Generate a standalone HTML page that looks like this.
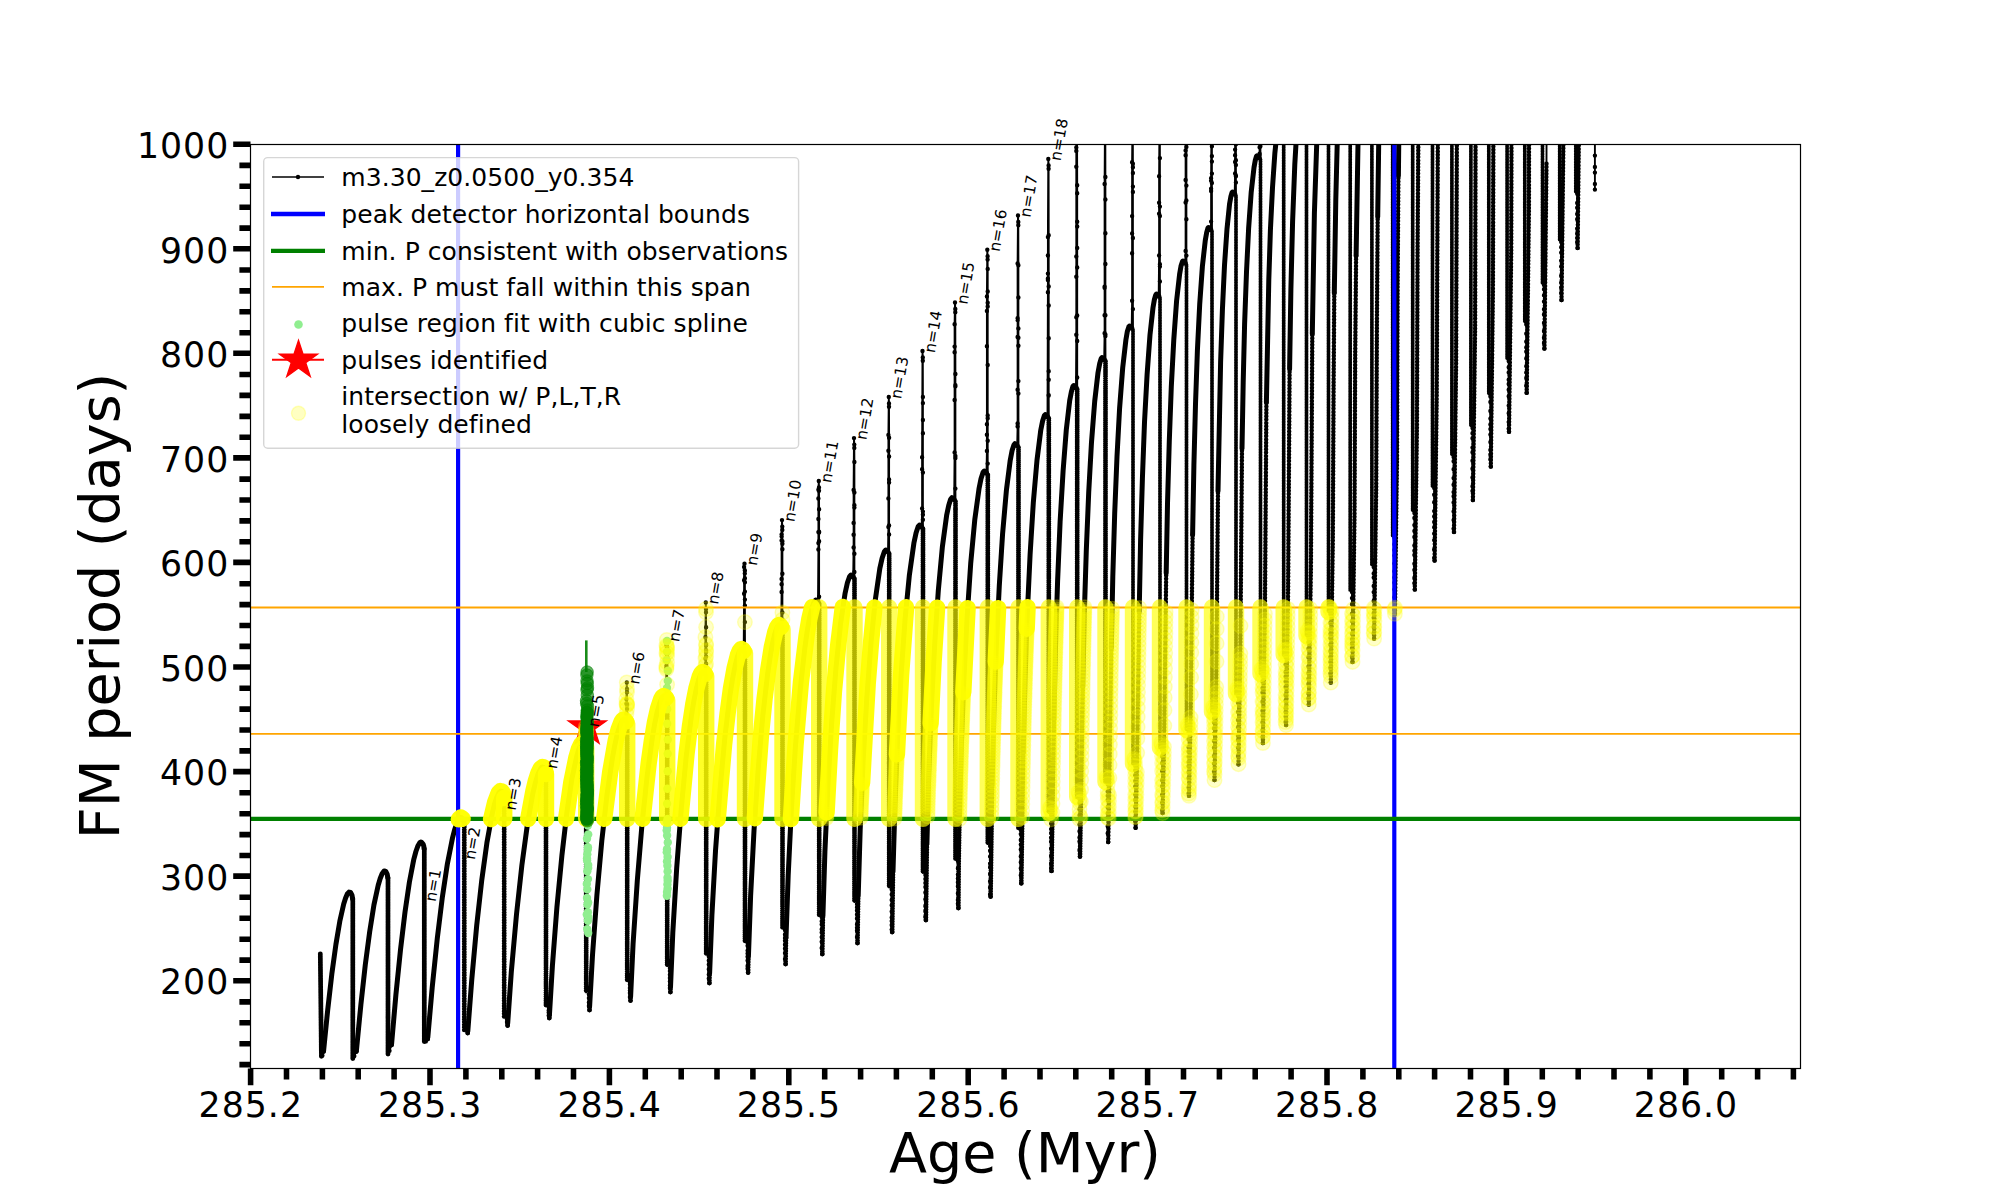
<!DOCTYPE html>
<html><head><meta charset="utf-8"><title>FM period vs Age</title>
<style>
html,body{margin:0;padding:0;background:#fff}
svg{display:block;font-family:"DejaVu Sans","Liberation Sans",sans-serif}
</style></head><body>
<svg width="2000" height="1200" viewBox="0 0 2000 1200">
<rect width="2000" height="1200" fill="#fff"/>
<defs><clipPath id="ax"><rect x="250.5" y="144.5" width="1550" height="924"/></clipPath></defs>
<g clip-path="url(#ax)">
<g fill="none" stroke="#000" stroke-linejoin="round">
<path stroke-width="1.9" d="M320.3 954L321.4 1057L322.4 1055.5L323.5 1051.6L323.6 1050.8L327.7 1009.9L331.8 974.2L335.9 944.5L339.8 921.3L343.7 904L345.6 898L347.3 894L349 892.1L350.6 892.5L352 895.1L352.6 899L352.8 899L352.8 1058.6L354.3 1056.1L356.3 1051.6L356.4 1050.7L360.9 1004.4L365.3 964.8L369.7 931.6L373.9 905.1L378.2 885.3L380.2 878.5L382.1 873.8L384.1 871.1L385.1 871.1L385.8 871.5L387.2 874.1L387.8 878L388 878L388 1054.3L389.5 1050.7L391.5 1045L391.6 1043.9L395.9 994.8L400.5 949.7L405 912.1L409.4 882.1L413.8 859.3L415.9 851.5L418 845.7L419.9 842.5L420.7 842L421.4 842.1L423.1 844.1L423.8 846.3L424.1 849L424.3 849L424.3 1041.8L425.8 1041.4L427.7 1039L427.8 1037.6L432.2 987.5L437.3 938.3L442.4 896.8L447.4 863.7L452.4 838.4L454.8 829.2L457.1 822.6L459.5 818.4L460.5 817.6L461.4 817.6L463.1 819.6L463.8 821.8L464.1 824.5L464.3 824.5L464.3 1030L465.7 1025L466.6 1027L467.7 1033L467.8 1031.2L471.8 979.2L476.7 925.5L481.8 879.8L486.9 842.8L492 814.7L494.4 804.5L496.8 797.2L498.9 792.7L500.8 791L502 791.5L503.1 793.1L503.8 795.3L504.1 798L504.2 798L504.2 1017.5L505.6 1012.5L506.6 1014.5L507 1019.5L507 1021.9L507.6 1025.5L507.7 1023.3L511.3 972L516.5 914.4L521.9 865L527.4 824.4L532.8 793.6L535.4 782.7L538 774.2L540.4 769.1L541.5 767.5L542.5 767L543.8 767.5L544.8 769.1L545.5 771.3L545.8 774L546 774L546 1005L547.3 1000L548.3 1002L548.7 1007L548.7 1010.4L548.7 1012.4L548.7 1015.6L549.3 1018L549.4 1015.3L552.4 965.8L556.9 907.4L561.9 855.4L566.9 812.3L571.9 778.8L576.8 756L579.1 748.5L581.3 744.2L582.8 743L584.1 743.8L585 745L585.4 743L585.4 742.4L585.4 736.6L585.8 727L586 733.5L586 736.8L586.1 729.6L586.1 730.1L586.1 731.7L586.1 735L586.1 741.6L586.2 747L586.2 992.5L587.6 987.5L588.5 989.5L588.9 994.5L588.9 998.1L588.9 1002.5L588.9 1006L589.5 1010L589.6 1006.7L592.5 955.2L596.9 895.1L601.8 840.7L607 794.9L612.2 759.3L614.8 745.1L617.3 734L619.9 725.7L622.2 720.8L623.8 719.5L625.1 720.3L626 721.5L626.4 713.8L626.4 703.8L626.4 699.1L626.8 682.5L627 689L627 692.3L627.1 704L627.1 704.7L627.1 705.1L627.1 709L627.2 723.5L627.2 980L628.6 975L629.5 977L629.9 982L629.9 984.4L629.9 988L629.9 990.6L629.9 993L629.9 997.1L630.5 1000.5L630.6 996.6L633.1 943.5L637.3 880.6L642 824.4L647.2 775.5L652.3 737.8L654.8 723.1L657.3 711.6L659.8 702.9L662.1 697.5L663.8 696L665.1 696.8L666 698L666.4 669.3L666.4 667.7L666.4 665.9L666.4 653.2L666.4 645.7L666.8 640L667 646.5L667 649.8L667.1 647.8L667.1 653L667.1 656.6L667.1 662.6L667.1 684.6L667.2 700L667.2 966L668.5 961L669.5 963L669.9 968L669.9 971.1L669.9 974.8L669.9 978L669.9 981.5L669.9 985.5L669.9 987.9L670.4 992L670.5 987.3L672.8 932.6L676.7 867.9L681.3 808.2L686.2 756.8L691.3 716.7L693.8 701.3L696.3 688.7L698.8 679.3L701.1 673.7L702.8 672L704.1 672.8L705 674L705.4 665.8L705.4 658.6L705.4 637.2L705.8 602.5L706 609L706 612.3L706.1 627.2L706.1 644.1L706.1 645.5L706.1 650.3L706.1 652L706.1 656.5L706.1 663.8L706.2 676L706.2 954.5L707.5 949.5L708.4 951.5L708.8 956.5L708.8 960.6L708.8 964.4L708.8 969.3L708.8 974.6L708.8 978.4L709.4 983L709.5 977.3L711.7 919.5L715.3 853.9L719.8 792.4L724.7 738.8L729.7 696.9L732.3 680.3L734.9 666.8L737.4 657L739.7 650.9L741.5 649L742.9 649.8L743.7 651L744.1 593.8L744.1 580.2L744.1 566.9L744.5 563.8L744.8 570.2L744.8 573.5L744.9 570.8L744.9 578.3L744.9 582.3L744.9 591.6L744.9 599.6L744.9 605.6L744.9 622.1L745 653L745 941L746.3 936L747.2 938L747.6 943L747.6 945.7L747.6 950.6L747.6 953.5L747.6 956.8L747.6 960.5L747.6 965.9L747.6 968.6L748.1 972.5L748.2 965.7L750.1 907.1L753.5 838.7L757.7 775.4L762.5 719.5L767.4 675.4L770 657.7L772.4 643.8L774.9 633.4L777.3 626.9L779 625L780.4 625.8L781.2 627L781.6 592L781.6 584.3L781.6 578.9L781.6 540.5L781.6 536.2L781.6 534.4L782 520.1L782.3 526.6L782.3 529.9L782.4 541.2L782.4 543.7L782.4 549.1L782.4 549.2L782.4 573.7L782.4 612.5L782.4 619.7L782.5 629L782.5 928L783.7 923L784.6 925L785 930L785 934.6L785 938.1L785 940.7L785 944.7L785 948.6L785 953.1L785 959L785.6 964L785.6 959.9L787.2 898.8L790.4 827.7L794.5 760L799.1 701.1L804 654.1L806.6 635.5L809.1 620.5L811.6 609.2L813.9 602.3L814.9 600.6L815.8 600L817.1 600.8L818 602L818.4 549.5L818.4 543.1L818.4 532.1L818.4 519L818.4 498.5L818.4 489.8L818.8 481L819 487.5L819 490.8L819.1 509.2L819.1 531.7L819.1 532.4L819.1 541.3L819.1 596.7L819.2 604L819.2 915L820.5 910L821.4 912L821.7 917L821.7 921.3L821.7 924.4L821.7 929.3L821.7 932.4L821.7 937.1L821.7 941.8L821.7 947.9L822.3 954L822.3 949.1L823.8 884.5L826.6 812.5L830.4 742.6L834.8 681.2L839.6 631.7L842.1 612L844.5 596.6L846.9 584.5L849.2 577.3L850.2 575.6L851 575L852.4 575.8L853.2 577L853.6 547.5L853.6 534.7L853.6 522.9L853.6 490L854 438.1L854.3 444.6L854.3 447.9L854.4 462L854.4 492.5L854.4 505.3L854.4 507.6L854.4 553.7L854.4 572L854.5 579L854.5 902L855.7 897L856.6 899L857 904L857 907.2L857 910.4L857 914.5L857 918.4L857 924.3L857 927.8L857 930.7L857 937.1L857.5 943L857.5 937.2L858.8 872.2L861.5 796.6L865.1 724.7L869.5 660.9L874.3 609.1L876.7 588.9L879.1 572.6L881.6 560.2L883.9 552.5L884.9 550.7L885.8 550L887.1 550.8L888 552L888.4 527L888.4 498.4L888.4 450.8L888.4 434.9L888.8 396.9L889 403.4L889 406.7L889.1 437.7L889.1 456.4L889.1 479.4L889.1 482.6L889.1 525.5L889.1 534.4L889.2 554L889.2 887.5L890.5 882.5L891.3 884.5L891.7 889.5L891.7 894.5L891.7 899.9L891.7 905.3L891.7 911.4L891.7 917.4L891.7 921.1L891.7 925L891.7 929.6L892.2 932L892.2 927.4L893.4 856.9L895.8 780.7L899.2 706.6L903.4 641.6L908 588L910.4 566.4L912.9 549L915.3 535.9L917.7 527.7L918.6 525.8L919.4 525L920.9 525.8L921.7 527L922.1 508.5L922.1 508.4L922.1 469.2L922.1 457.2L922.5 351L922.8 357.5L922.8 360.8L922.9 396.9L922.9 403.1L922.9 420L922.9 433.2L922.9 472.5L922.9 511.6L922.9 514.5L922.9 514.8L922.9 519.8L923 529L923 873L924.2 868L925 870L925.4 875L925.4 879L925.4 882.9L925.4 886.9L925.4 892.5L925.4 899.3L925.4 905.9L925.4 910.9L925.4 916.7L925.9 920L925.9 914.5L926.9 843.9L929.1 763.2L932.3 686.7L936.3 619.1L940.8 563L943.1 540.9L945.5 522.6L947.9 508.9L950.2 500.5L951.1 498.4L951.9 497.6L953.4 498.4L954.2 499.6L954.6 452.5L954.6 400L954.6 352.2L954.6 346.6L954.6 324.2L955 302.5L955.3 309L955.3 312.3L955.4 374L955.4 385.3L955.4 386.3L955.4 455.9L955.4 458L955.4 488.6L955.5 501.6L955.5 859L956.7 854L957.5 856L957.9 861L957.9 868.3L957.9 874.6L957.9 878.5L957.9 882.3L957.9 886.2L957.9 893.3L957.9 899.9L957.9 903.8L958.4 908L958.4 903.1L959.2 827.4L961.3 746L964.3 668.8L968.3 598.1L972.7 540.2L975.1 516.7L977.6 497.4L980.1 482.9L982.4 474.1L983.3 471.9L984.2 471L985.7 471.8L986.5 473L986.9 450.9L986.9 434.7L986.9 424.2L986.9 346.2L986.9 310.9L986.9 296.4L987.3 249.8L987.6 256.3L987.6 259.6L987.7 268.9L987.7 291.5L987.7 302.8L987.7 306.4L987.7 365L987.7 415.4L987.7 418.3L987.7 440.7L987.7 463.6L987.8 475L987.8 844L989 839L989.8 841L990.1 846L990.1 850.8L990.1 856.6L990.1 863.6L990.1 867.2L990.1 873.9L990.1 881.2L990.1 887.5L990.1 894.5L990.6 896.5L990.7 890.6L991.8 801.9L993.8 718.4L996.6 640L1000.1 571.6L1004.3 512.4L1006.5 489L1008.8 469.7L1011.1 455.4L1013.3 446.4L1014.9 443.6L1016.4 444.4L1017.2 445.6L1017.6 426.4L1017.6 423.4L1017.6 389.7L1017.6 337L1017.6 319.9L1017.6 318.2L1017.6 263.5L1018 215.4L1018.3 221.9L1018.3 225.2L1018.4 265.3L1018.4 297.5L1018.4 328.4L1018.4 337.8L1018.4 345.6L1018.4 345.8L1018.4 381.1L1018.4 393.5L1018.5 447.6L1018.5 828L1019.6 823L1020.5 825L1020.8 830L1020.8 834L1020.8 840L1020.8 844.6L1020.8 849.4L1020.8 856.4L1020.8 862.2L1020.8 868.3L1020.8 875.3L1021.3 883.3L1021.3 877.7L1022.7 777.9L1024.6 693.3L1027.3 614.2L1030.6 545.4L1034.7 485.2L1036.9 460.8L1039.1 441.4L1041.4 426.5L1043.6 417.5L1044.4 415.4L1045.2 414.5L1046.7 415.3L1047.5 416.5L1047.9 292.2L1047.9 280L1047.9 278.5L1047.9 273.6L1047.9 255.5L1047.9 237.1L1048.3 158.9L1048.6 165.4L1048.6 168.7L1048.7 235.2L1048.7 286.4L1048.7 305.5L1048.7 338.3L1048.7 371.3L1048.7 379.8L1048.7 395.1L1048.7 395.2L1048.7 395.5L1048.8 418.5L1048.8 813L1049.9 808L1050.7 810L1051.1 815L1051.1 819.3L1051.1 823.4L1051.1 829.1L1051.1 833.1L1051.1 837.8L1051.1 841.8L1051.1 848.6L1051.1 855.9L1051.1 863.8L1051.1 868.2L1051.5 870.9L1051.6 865.4L1053.5 739.5L1055.1 662.5L1057.5 584.5L1060.4 516.6L1064.1 456.2L1068.2 412L1070.2 397.3L1072.3 388.3L1073 386.3L1073.8 385.5L1075.2 386.3L1076 387.5L1076.3 334.7L1076.3 317.3L1076.3 276.7L1076.3 256.5L1076.3 166.7L1076.3 150.9L1076.3 147.5L1076.8 119.5L1077 119.5L1077.2 185.3L1077.2 193.2L1077.2 221.7L1077.2 226.5L1077.2 247.9L1077.2 267.4L1077.2 315.4L1077.2 341L1077.2 377.5L1077.2 389.5L1077.2 797L1078.4 792L1079.2 794L1079.5 799L1079.5 802.8L1079.5 809.3L1079.5 815.2L1079.5 819L1079.5 824.4L1079.5 831.2L1079.5 837.4L1079.5 841.5L1079.5 850.1L1080 856.6L1080.1 851L1083.9 630L1086.1 555.7L1088.8 490.1L1092.4 429.3L1096.4 384.5L1098.5 369.8L1100.5 360.4L1101.9 357.5L1103.4 358.3L1104.2 359.5L1104.6 333.3L1104.6 315.2L1104.6 287.7L1104.6 286.7L1104.6 184L1105 119.5L1105.3 119.5L1105.4 177L1105.4 199.5L1105.4 233.3L1105.4 264L1105.4 315.3L1105.4 334.4L1105.4 336L1105.5 361.5L1105.5 782L1106.6 777L1107.4 779L1107.7 784L1107.7 791.4L1107.7 795.7L1107.7 799.9L1107.7 807.3L1107.7 813.3L1107.7 817.5L1107.7 826.2L1107.7 833.3L1108.2 842L1108.3 836.2L1112.3 597.4L1114.4 524L1116.9 459.2L1120.3 397.3L1124.2 352.9L1126.2 338L1128.1 328.8L1129.4 326L1130.9 326.8L1131.7 328L1132.1 300.8L1132.1 253.3L1132.1 233.4L1132.1 216.1L1132.1 162.2L1132.5 119.5L1132.8 119.5L1132.9 163.7L1132.9 167.2L1132.9 173L1132.9 186.6L1132.9 191.9L1132.9 238L1132.9 309.1L1133 330L1133 764L1134.1 759L1134.9 761L1135.2 766L1135.2 770.2L1135.2 775.3L1135.2 780.9L1135.2 786.5L1135.2 794.5L1135.2 800L1135.2 806.6L1135.2 811.5L1135.2 817.3L1135.2 821.4L1135.6 827.7L1135.8 822.1L1136.9 772.1L1140.1 560.7L1141.9 491.3L1144.2 428.8L1147.6 366.4L1151.3 320.8L1153.2 306.1L1155.1 296.7L1156.5 294L1157.9 294.8L1158.7 296L1159.1 255.4L1159.1 213.8L1159.1 202.7L1159.1 176.2L1159.5 119.5L1159.8 119.5L1159.9 158.1L1159.9 206.6L1159.9 216L1159.9 264.2L1159.9 266.5L1159.9 281.4L1160 298L1160 748L1161.1 743L1161.8 745L1162.1 750L1162.1 756.2L1162.1 763.1L1162.1 770.9L1162.1 780.3L1162.1 786.2L1162.1 794.9L1162.1 802.8L1162.1 810.3L1162.6 813.1L1162.7 807.6L1164 747L1167 530.5L1168.7 460.7L1170.8 399.6L1174 335.9L1177.8 289.1L1179.7 273.5L1181.6 263.9L1182.9 261L1184.4 261.8L1185.2 263L1185.6 250.9L1185.6 202.5L1185.6 179.9L1185.6 155.3L1185.6 150.4L1186 119.5L1186.3 119.5L1186.4 146.9L1186.4 185.6L1186.4 200.4L1186.4 219.3L1186.4 255.6L1186.5 265L1186.5 730L1187.6 725L1188.3 727L1188.6 732L1188.6 739.3L1188.6 747.2L1188.6 751.5L1188.6 756.6L1188.6 762.1L1188.6 766.2L1188.6 772.3L1188.6 778.2L1188.6 787.6L1188.6 793.5L1189 795.8L1189.2 790.2L1190.6 717.6L1193.2 500.8L1194.7 430L1196.7 367.5L1199.8 302.5L1203.4 255.6L1205.3 239.9L1207.2 230.3L1208.5 227.5L1209.9 228.3L1210.7 229.5L1211.1 221.6L1211.1 191L1211.1 188.8L1211.1 180.8L1211.1 178.3L1211.5 119.5L1211.8 119.5L1211.9 138.8L1211.9 146.2L1211.9 156.1L1211.9 161.6L1211.9 173.6L1211.9 182.9L1212 231.5L1212 712L1213 707L1213.8 709L1214 714L1214 718.3L1214 722.5L1214 728.2L1214 733.6L1214 740.9L1214 747.8L1214 756L1214 763.6L1214 771.6L1214.5 780.1L1214.6 774.3L1216.2 687.1L1218.4 463.5L1219.8 393.7L1221.5 333.4L1224.4 268L1227.8 220.1L1229.6 204.2L1231.3 194.6L1232.5 192L1233.9 192.8L1234.7 194L1235.1 173.5L1235.1 162L1235.1 155.2L1235.1 149.6L1235.5 119.5L1235.8 119.5L1235.9 144.3L1235.9 160.2L1235.9 164.9L1235.9 175.4L1235.9 176.2L1235.9 182.4L1236 196L1236 694L1237 689L1237.8 691L1238 696L1238 702.8L1238 711.9L1238 720L1238 727.2L1238 735.7L1238 739.9L1238 747.7L1238 756.1L1238.5 764.2L1238.6 758.4L1240.3 653.6L1242.2 434.2L1243.6 364L1245.3 302.2L1248.2 235.8L1251.8 186.2L1253.7 169.5L1255.6 159L1257 155.8L1258.4 156.6L1259.2 157.8L1259.6 154.8L1259.6 153.8L1259.6 147.3L1259.6 141.4L1259.6 134.2L1260 119.5L1260.3 119.5L1260.4 134.4L1260.4 135.2L1260.4 139.6L1260.4 144.4L1260.4 146.2L1260.5 159.8L1260.5 674L1261.5 669L1262.3 671L1262.5 676L1262.5 681.5L1262.5 688.1L1262.5 692.5L1262.5 701.7L1262.5 710.7L1262.5 715.2L1262.5 722.2L1262.5 730.3L1262.5 737L1262.9 743L1263 737.1L1264.9 613.8L1266.5 395L1267.7 325.2L1269.2 264.3L1271.9 197L1275.3 148L1277.1 131.5L1278.9 121.1L1279.3 119.5L1281.6 119.5L1282.4 120L1282.8 131.9L1282.8 129.2L1282.8 129.1L1282.8 123.3L1283.2 119.5L1283.5 119.5L1283.6 123L1283.6 124L1283.6 126.1L1283.6 126.3L1283.6 127.4L1283.7 122L1283.7 655L1284.7 650L1285.4 652L1285.6 657L1285.6 664.4L1285.6 672L1285.6 676.5L1285.6 681.4L1285.6 686.9L1285.6 695L1285.6 700.7L1285.6 707.9L1285.6 712L1285.6 716.4L1285.6 722L1286.1 725.1L1286.2 719.3L1288.1 591.5L1289.7 358.1L1290.9 284.3L1292.6 219.9L1294.8 163.5L1297.4 119.6L1305.2 119.5L1306.4 119.5L1306.4 120.1L1306.4 123.9L1306.5 119.5L1306.5 636L1307.5 631L1308.2 633L1308.4 638L1308.4 642.2L1308.4 648.8L1308.4 657.3L1308.4 666.6L1308.4 673.2L1308.4 678.7L1308.4 683.9L1308.4 693.2L1308.4 698.4L1308.8 704.5L1308.9 698.5L1310.9 566.9L1312.5 319.3L1313.8 239.7L1315.5 172.9L1317.5 119.5L1327.2 119.5L1327.6 125.9L1327.6 119.5L1328.5 119.5L1328.5 612L1329.5 607L1330.2 609L1330.4 614L1330.4 623L1330.4 629.7L1330.4 633.9L1330.4 638L1330.4 644.8L1330.4 651.3L1330.4 657L1330.4 661.9L1330.4 667.8L1330.4 673.6L1330.8 682.5L1330.9 676.6L1332.8 540.8L1333.6 377.8L1334.5 278.8L1335.9 193.4L1337.7 122.9L1337.9 119.5L1350.2 119.5L1350.2 590L1351.2 585L1351.9 587L1352 592L1352 598.1L1352 604.3L1352 613.8L1352 621.1L1352 627.2L1352 633.6L1352 639.1L1352 643.5L1352 648.1L1352 656.7L1352.5 661.9L1352.5 656L1354.5 515.5L1356 259.8L1358.4 119.7L1370.6 119.5L1371 122.7L1371 119.5L1371.9 119.5L1371.9 565L1372.9 560L1373.5 562L1373.7 567L1373.7 573.4L1373.7 577.6L1373.7 585.9L1373.7 592.1L1373.7 601L1373.7 608.1L1373.7 613.2L1373.7 617.8L1373.7 626.9L1373.7 633.2L1374.1 638.5L1374.2 632.7L1376.2 487.9L1377.2 265.5L1379.1 119.5L1392.7 119.5L1392.7 536L1393.6 531L1394.3 533L1394.5 538L1394.5 544.3L1394.5 549.9L1394.5 555.4L1394.5 563.5L1394.5 571.2L1394.5 577.4L1394.5 582.8L1394.5 589.5L1394.5 597.2L1394.5 602L1394.5 609.6L1394.9 613.8L1395 607.8L1397 458.7L1397.8 253L1399.1 119.5L1412.7 119.5L1412.7 511L1413.6 506L1414.3 508L1414.4 513L1414.4 518L1414.4 525.1L1414.4 531L1414.4 537L1414.4 545.5L1414.4 550.7L1414.4 554.9L1414.4 563.7L1414.4 569.9L1414.4 578L1414.4 583.2L1414.8 589.4L1414.9 583.5L1416.9 429.7L1417.6 238.4L1418.5 119.7L1431.2 119.5L1432.5 119.5L1432.5 486L1433.4 481L1434.1 483L1434.2 488L1434.2 494.8L1434.2 502.3L1434.2 511.1L1434.2 516.4L1434.2 521.9L1434.2 527.3L1434.2 533.6L1434.2 540.1L1434.2 549.4L1434.2 558.1L1434.6 560.6L1434.7 554.7L1436.7 396.7L1437.9 119.5L1451.9 119.5L1451.9 455L1452.8 450L1453.4 452L1453.6 457L1453.6 461.3L1453.6 469.2L1453.6 478.1L1453.6 484.8L1453.6 492.1L1453.6 496.2L1453.6 502.4L1453.6 511.5L1453.6 520.1L1453.6 528.8L1454 531.9L1454 526.1L1456.1 363.6L1457 119.5L1470.9 119.5L1470.9 426L1471.8 421L1472.4 423L1472.5 428L1472.5 433.3L1472.5 438.2L1472.5 447.6L1472.5 452.2L1472.5 460.8L1472.5 468.7L1472.5 477.4L1472.5 486.3L1472.5 490.9L1472.9 500.1L1473 494.2L1475.1 327.7L1475.7 119.5L1488.8 119.5L1488.8 394.6L1489.7 389.6L1490.3 391.6L1490.4 396.6L1490.4 401.9L1490.4 411L1490.4 418.6L1490.4 424.4L1490.4 429.1L1490.4 434.6L1490.4 442.1L1490.4 450L1490.4 454.7L1490.4 459.2L1490.8 466.6L1490.9 460.7L1492.9 290.1L1493.4 119.5L1507.1 119.5L1507.1 359L1508 354L1508.6 356L1508.7 361L1508.7 367.2L1508.7 372.5L1508.7 379.8L1508.7 384L1508.7 389.7L1508.7 396.3L1508.7 405.6L1508.7 413.2L1508.7 422.1L1508.7 428.7L1509 431.7L1509.1 425.9L1511.2 251.1L1511.5 119.5L1524.8 119.5L1524.8 322.5L1525.6 317.5L1526.2 319.5L1526.3 324.5L1526.3 333.8L1526.3 341.7L1526.3 347.5L1526.3 351.7L1526.3 358.5L1526.3 366.2L1526.3 372.6L1526.3 378.1L1526.3 385.8L1526.7 392.8L1526.8 386.9L1528.9 208.6L1529.1 119.5L1542.5 119.5L1542.5 283L1543.3 278L1543.9 280L1544 285L1544 289.3L1544 295.2L1544 301.6L1544 309.3L1544 314.5L1544 322.9L1544 331L1544 337.8L1544 343L1544.4 348.6L1544.4 342.8L1546.5 161.6L1546.6 119.5L1559.7 119.5L1559.7 240L1560.5 235L1561.1 237L1561.2 242L1561.2 247.3L1561.2 252.6L1561.2 260.8L1561.2 266.5L1561.2 275.8L1561.2 282.6L1561.2 287.7L1561.2 293L1561.5 300L1561.6 294.1L1563.6 119.5L1575.8 119.5L1575.8 191.7L1576.6 186.7L1577.2 188.7L1577.2 193.7L1577.2 202.9L1577.2 207.8L1577.2 214L1577.2 219.3L1577.2 228.7L1577.2 233.5L1577.2 237.9L1577.2 242.3L1577.6 247.9L1577.6 241.9L1579.1 119.5L1594.9 119.5L1594.9 155.6L1594.9 166.9L1594.9 172.6L1594.9 183.9L1594.9 189.6"/>
<path stroke-width="5" stroke-linecap="round" d="M323.6 1050.8L327.7 1009.9L331.8 974.2L335.9 944.5L339.8 921.3L343.7 904L345.6 898L347.3 894L349 892.1L350.6 892.5L352 895.1L352.6 899M356.4 1050.7L360.9 1004.4L365.3 964.8L369.7 931.6L373.9 905.1L378.2 885.3L380.2 878.5L382.1 873.8L384.1 871.1L385.1 871.1L385.8 871.5L387.2 874.1L387.8 878M391.6 1043.9L395.9 994.8L400.5 949.7L405 912.1L409.4 882.1L413.8 859.3L415.9 851.5L418 845.7L419.9 842.5L420.7 842L421.4 842.1L423.1 844.1L423.8 846.3L424.1 849M427.8 1037.6L432.2 987.5L437.3 938.3L442.4 896.8L447.4 863.7L452.4 838.4L454.8 829.2L457.1 822.6L459.5 818.4L460.5 817.6L461.4 817.6L463.1 819.6L463.8 821.8L464.1 824.5M467.8 1031.2L471.8 979.2L476.7 925.5L481.8 879.8L486.9 842.8L492 814.7L494.4 804.5L496.8 797.2L498.9 792.7L500.8 791L502 791.5L503.1 793.1L503.8 795.3L504.1 798M507.7 1023.3L511.3 972L516.5 914.4L521.9 865L527.4 824.4L532.8 793.6L535.4 782.7L538 774.2L540.4 769.1L541.5 767.5L542.5 767L543.8 767.5L544.8 769.1L545.5 771.3L545.8 774M549.4 1015.3L552.4 965.8L556.9 907.4L561.9 855.4L566.9 812.3L571.9 778.8L576.8 756L579.1 748.5L581.3 744.2L582.8 743L584.1 743.8L585 745M589.6 1006.7L592.5 955.2L596.9 895.1L601.8 840.7L607 794.9L612.2 759.3L614.8 745.1L617.3 734L619.9 725.7L622.2 720.8L623.8 719.5L625.1 720.3L626 721.5M630.6 996.6L633.1 943.5L637.3 880.6L642 824.4L647.2 775.5L652.3 737.8L654.8 723.1L657.3 711.6L659.8 702.9L662.1 697.5L663.8 696L665.1 696.8L666 698M670.5 987.3L672.8 932.6L676.7 867.9L681.3 808.2L686.2 756.8L691.3 716.7L693.8 701.3L696.3 688.7L698.8 679.3L701.1 673.7L702.8 672L704.1 672.8L705 674M709.6 973.3L711.9 915.4L715.5 850.9L720 790L724.9 736.9L729.9 695.6L732.5 679.1L735 666.4L737.4 656.7L739.8 650.7L741.5 649L742.9 649.8L743.7 651M748.4 957L750.6 896.1L754 830.6L758.2 769.1L762.8 715.7L767.7 673.3L770.2 656.5L772.6 642.9L775 633.1L777.3 626.9L779 625L780.4 625.8L781.2 627M786 937.9L788.2 875.1L791.4 808.9L795.4 746.9L800 692.1L804.7 648.9L807.1 631.9L809.5 618.1L811.9 607.8L814.2 601.7L815.8 600L817.1 600.8L818 602M822.9 916.2L824.9 851.9L828 784L831.7 722.3L836 667.8L840.5 624.2L845.1 593.2L847.4 582.8L849.5 576.7L851 575L852.4 575.8L853.2 577M858.2 896.3L860.2 829.3L863.1 761.3L866.8 698.2L870.9 644.1L875.3 599.9L879.8 568.6L882.1 558.2L884.3 551.7L885.8 550L887.1 550.8L888 552M893 871.3L895 803.4L897.7 736.2L901.2 673.7L905.1 619L909.4 574.8L913.9 543.1L916.1 532.8L918.1 526.7L919.5 525L920.9 525.8L921.7 527M926.9 843.9L928.7 775.1L931.4 707L934.7 644.2L938.3 590.7L942.4 546.6L946.6 515.6L948.7 505.4L950.6 499.3L952 497.6L953.4 498.4L954.2 499.6M959.5 815.3L961.3 746L963.9 679.3L967.1 617.3L970.7 563.6L974.8 519.6L979 488.8L981 478.7L983 472.5L984.3 471L985.7 471.8L986.5 473M992.1 785.5L993.9 713.4L996.3 647L999.3 585.7L1002.6 533.7L1006.4 490.4L1010.2 460.4L1012.1 450.6L1013.9 445L1015 443.6L1016.4 444.4L1017.2 445.6M1023.2 752.7L1025 680.6L1027.3 614.2L1030.1 554.5L1033.3 502.8L1037 460.1L1040.7 430.6L1042.6 421.1L1044.3 415.7L1045.3 414.5L1046.7 415.3L1047.5 416.5M1053.9 719.1L1055.5 647.1L1057.6 580.9L1060.1 521.8L1063.1 470.9L1066.3 429.8L1069.7 400.5L1071.4 391.7L1072.9 386.5L1073.8 385.5L1075.2 386.3L1076 387.5M1082.7 686.9L1084.3 614.6L1086.3 550.3L1088.7 492.7L1091.5 442.2L1094.7 401.4L1098 372.6L1099.7 363.5L1101.2 358.5L1102 357.5L1103.4 358.3L1104.2 359.5M1111.3 648.2L1112.8 576.7L1114.7 513.3L1117 456.7L1119.6 408.2L1122.7 367.7L1125.9 339.9L1127.3 331.6L1128.8 326.9L1129.5 326L1130.9 326.8L1131.7 328M1139.2 611.7L1140.6 540.1L1142.4 478.7L1144.5 422.3L1147.1 374.5L1150 334.7L1153 307.6L1154.4 299.5L1155.8 294.8L1156.5 294L1157.9 294.8L1158.7 296M1166.2 573.1L1167.5 504L1169.3 440.8L1171.3 386.6L1173.8 339.5L1176.6 300.7L1179.6 274.2L1181 266.1L1182.4 261.7L1183 261L1184.4 261.8L1185.2 263M1192.6 534.9L1193.9 465.3L1195.5 404.2L1197.4 350.5L1199.7 304.3L1202.4 266.3L1205.3 240.2L1206.7 232.4L1207.9 228.2L1208.5 227.5L1209.9 228.3L1210.7 229.5M1218 491.1L1220.6 362.5L1222.4 310.1L1224.5 265.4L1227 228.9L1229.6 203.6L1230.9 196.5L1232 192.6L1232.5 192L1233.9 192.8L1234.7 194M1242 448.7L1243.2 382.4L1244.6 324.1L1246.5 272L1248.6 228.8L1251.2 192.2L1254 167.5L1255.3 160.3L1256.5 156.3L1257 155.8L1258.4 156.6L1259.2 157.8M1266.4 402.4L1268.8 279.8L1270.4 230.4L1272.5 187.7L1274.9 152.7L1277.4 128.8L1279.3 119.5L1282.4 120M1289.6 369.1L1290.9 288.7L1292.6 221.4L1294.8 164.4L1297.4 119.6M1312.3 334L1314.4 213L1317.5 120.4M1334.3 293.1L1335.8 199.5L1337.8 120.3M1356.1 255.9L1358.4 119.7M1377.7 216.9L1379 120.8M1398.4 176L1399 120.8M1418.4 130.7L1418.5 119.7"/>
<path stroke-width="4.9" stroke-linecap="round" stroke-dasharray="0 1.1" d="M320.3 954L321.4 1057M352.8 899L352.8 1058.6M388 878L388 1054.3M424.3 849L424.3 1041.8"/><path stroke-width="4.9" stroke-linecap="round" stroke-dasharray="0 2.6" d="M464.3 824.5L464.3 1030M504.2 798L504.2 1017.5"/><path stroke-width="4.9" stroke-linecap="round" stroke-dasharray="0 2.1" d="M546 774L546 1005M586.2 747L586.2 992.5M627.2 723.5L627.2 980M667.2 700L667.2 966M706.2 676L706.2 954.5M745 653L745 941M782.5 629L782.5 928M819.2 604L819.2 915M854.5 579L854.5 902M889.2 554L889.2 887.5M923 529L923 873M955.5 501.6L955.5 859M987.8 475L987.8 844M1018.5 447.6L1018.5 828M1048.8 418.5L1048.8 813M1077.2 389.5L1077.2 797M1105.5 361.5L1105.5 782"/><path stroke-width="3.9" stroke-linecap="round" stroke-dasharray="0 1.6" d="M1133 330L1133 764M1160 298L1160 748M1186.5 265L1186.5 730M1212 231.5L1212 712M1236 196L1236 694M1260.5 159.8L1260.5 674M1283.7 122L1283.7 655M1306.5 119.5L1306.5 636M1328.5 119.5L1328.5 612M1350.2 119.5L1350.2 590M1371.9 119.5L1371.9 565M1392.7 119.5L1392.7 536M1412.7 119.5L1412.7 511M1432.5 119.5L1432.5 486M1451.9 119.5L1451.9 455M1470.9 119.5L1470.9 426M1488.8 119.5L1488.8 394.6M1507.1 119.5L1507.1 359M1524.8 119.5L1524.8 322.5M1542.5 119.5L1542.5 283M1559.7 119.5L1559.7 240M1575.8 119.5L1575.8 191.7"/>
<path stroke-width="4.8" stroke-linecap="round" stroke-dasharray="0 2.6" d="M323.5 1051.6L323.6 1050.8M356.3 1051.6L356.4 1050.7M391.5 1045L391.6 1043.9M427.7 1039L427.8 1037.6M467.7 1033L467.8 1031.2M507.6 1025.5L507.7 1023.3M549.3 1018L549.4 1015.3M589.5 1010L589.6 1006.7M630.5 1000.5L630.6 996.6M670.4 992L670.5 987.3M709.4 983L709.6 973.3M748.1 972.5L748.4 957M785.6 964L786 937.9M822.3 954L822.9 916.2M857.5 943L858.2 896.3M892.2 932L893 871.3M925.9 920L926.9 843.9M958.4 908L958.7 863.4L959.5 815.3M990.6 896.5L992.1 785.5M1021.3 883.3L1023.2 752.7M1051.5 870.9L1053.9 719.1M1080 856.6L1082.7 686.9"/>
<path stroke-width="4.5" stroke-linecap="round" stroke-dasharray="0 3.3" d="M1108.2 842L1109.1 795.2L1111.3 648.2M1135.6 827.7L1136.9 772.1L1139.2 611.7M1162.6 813.1L1164 747L1166.2 573.1M1189 795.8L1190.6 717.6L1192.6 534.9M1214.5 780.1L1216.2 687.1L1218 491.1M1238.5 764.2L1240.3 653.6L1242 448.7M1262.9 743L1264.9 613.8L1266.4 402.4M1286.1 725.1L1288.1 591.5L1289.6 369.1M1308.8 704.5L1310.9 566.9L1312.3 334M1330.8 682.5L1332.8 540.8L1333.6 384.9L1334.3 293.1M1352.5 661.9L1354.5 515.5L1355.2 354.6L1356.1 255.9M1374.1 638.5L1376.2 487.9L1376.9 322.2L1377.7 216.9M1394.9 613.8L1397 458.7L1397.6 280.5L1398.4 176M1414.8 589.4L1416.9 429.7L1417.6 246L1418.4 130.7M1434.6 560.6L1436.7 396.7L1437.9 123.9M1454 531.9L1456.1 363.6L1456.9 121.1M1472.9 500.1L1475.1 327.7L1475.6 121.1M1490.8 466.6L1492.9 290.1L1493.4 126.3M1509 431.7L1511.2 251.1L1511.5 123M1526.7 392.8L1528.9 208.6L1529 136.9M1544.4 348.6L1546.5 161.6M1561.5 300L1563.6 122.7M1577.6 247.9L1579 122.6"/>
<path stroke-width="4.4" stroke-linecap="round" d="M322.4 1055.5h0M323.5 1051.6h0M354.3 1056.1h0M356.3 1051.6h0M389.5 1050.7h0M391.5 1045h0M425.8 1041.4h0M427.7 1039h0M465.7 1025h0M466.6 1027h0M467.7 1033h0M505.6 1012.5h0M506.6 1014.5h0M507 1019.5h0M507 1021.9h0M507.6 1025.5h0M547.3 1000h0M548.3 1002h0M548.7 1007h0M548.7 1010.4h0M548.7 1012.4h0M548.7 1015.6h0M549.3 1018h0M585.4 743h0M585.4 742.4h0M585.4 736.6h0M585.8 727h0M586 733.5h0M586 736.8h0M586.1 729.6h0M586.1 730.1h0M586.1 731.7h0M586.1 735h0M586.1 741.6h0M587.6 987.5h0M588.5 989.5h0M588.9 994.5h0M588.9 998.1h0M588.9 1002.5h0M588.9 1006h0M589.5 1010h0M626.4 713.8h0M626.4 703.8h0M626.4 699.1h0M626.8 682.5h0M627 689h0M627 692.3h0M627.1 704h0M627.1 704.7h0M627.1 705.1h0M627.1 709h0M628.6 975h0M629.5 977h0M629.9 982h0M629.9 984.4h0M629.9 988h0M629.9 990.6h0M629.9 993h0M629.9 997.1h0M630.5 1000.5h0M666.4 669.3h0M666.4 667.7h0M666.4 665.9h0M666.4 653.2h0M666.4 645.7h0M666.8 640h0M667 646.5h0M667 649.8h0M667.1 647.8h0M667.1 653h0M667.1 656.6h0M667.1 662.6h0M667.1 684.6h0M668.5 961h0M669.5 963h0M669.9 968h0M669.9 971.1h0M669.9 974.8h0M669.9 978h0M669.9 981.5h0M669.9 985.5h0M669.9 987.9h0M670.4 992h0M705.4 665.8h0M705.4 658.6h0M705.4 637.2h0M705.8 602.5h0M706 609h0M706 612.3h0M706.1 627.2h0M706.1 644.1h0M706.1 645.5h0M706.1 650.3h0M706.1 652h0M706.1 656.5h0M706.1 663.8h0M707.5 949.5h0M708.4 951.5h0M708.8 956.5h0M708.8 960.6h0M708.8 964.4h0M708.8 969.3h0M708.8 974.6h0M708.8 978.4h0M709.4 983h0M744.1 593.8h0M744.1 580.2h0M744.1 566.9h0M744.5 563.8h0M744.8 570.2h0M744.8 573.5h0M744.9 570.8h0M744.9 578.3h0M744.9 582.3h0M744.9 591.6h0M744.9 599.6h0M744.9 605.6h0M744.9 622.1h0M746.3 936h0M747.2 938h0M747.6 943h0M747.6 945.7h0M747.6 950.6h0M747.6 953.5h0M747.6 956.8h0M747.6 960.5h0M747.6 965.9h0M747.6 968.6h0M748.1 972.5h0M781.6 592h0M781.6 584.3h0M781.6 578.9h0M781.6 540.5h0M781.6 536.2h0M781.6 534.4h0M782 520.1h0M782.3 526.6h0M782.3 529.9h0M782.4 541.2h0M782.4 543.7h0M782.4 549.1h0M782.4 549.2h0M782.4 573.7h0M782.4 612.5h0M782.4 619.7h0M783.7 923h0M784.6 925h0M785 930h0M785 934.6h0M785 938.1h0M785 940.7h0M785 944.7h0M785 948.6h0M785 953.1h0M785 959h0M785.6 964h0M818.4 549.5h0M818.4 543.1h0M818.4 532.1h0M818.4 519h0M818.4 498.5h0M818.4 489.8h0M818.8 481h0M819 487.5h0M819 490.8h0M819.1 509.2h0M819.1 531.7h0M819.1 532.4h0M819.1 541.3h0M819.1 596.7h0M820.5 910h0M821.4 912h0M821.7 917h0M821.7 921.3h0M821.7 924.4h0M821.7 929.3h0M821.7 932.4h0M821.7 937.1h0M821.7 941.8h0M821.7 947.9h0M822.3 954h0M853.6 547.5h0M853.6 534.7h0M853.6 522.9h0M853.6 490h0M854 438.1h0M854.3 444.6h0M854.3 447.9h0M854.4 462h0M854.4 492.5h0M854.4 505.3h0M854.4 507.6h0M854.4 553.7h0M854.4 572h0M855.7 897h0M856.6 899h0M857 904h0M857 907.2h0M857 910.4h0M857 914.5h0M857 918.4h0M857 924.3h0M857 927.8h0M857 930.7h0M857 937.1h0M857.5 943h0M888.4 527h0M888.4 498.4h0M888.4 450.8h0M888.4 434.9h0M888.8 396.9h0M889 403.4h0M889 406.7h0M889.1 437.7h0M889.1 456.4h0M889.1 479.4h0M889.1 482.6h0M889.1 525.5h0M889.1 534.4h0M890.5 882.5h0M891.3 884.5h0M891.7 889.5h0M891.7 894.5h0M891.7 899.9h0M891.7 905.3h0M891.7 911.4h0M891.7 917.4h0M891.7 921.1h0M891.7 925h0M891.7 929.6h0M892.2 932h0M922.1 508.5h0M922.1 508.4h0M922.1 469.2h0M922.1 457.2h0M922.5 351h0M922.8 357.5h0M922.8 360.8h0M922.9 396.9h0M922.9 403.1h0M922.9 420h0M922.9 433.2h0M922.9 472.5h0M922.9 511.6h0M922.9 514.5h0M922.9 514.8h0M922.9 519.8h0M924.2 868h0M925 870h0M925.4 875h0M925.4 879h0M925.4 882.9h0M925.4 886.9h0M925.4 892.5h0M925.4 899.3h0M925.4 905.9h0M925.4 910.9h0M925.4 916.7h0M925.9 920h0M954.6 452.5h0M954.6 400h0M954.6 352.2h0M954.6 346.6h0M954.6 324.2h0M955 302.5h0M955.3 309h0M955.3 312.3h0M955.4 374h0M955.4 385.3h0M955.4 386.3h0M955.4 455.9h0M955.4 458h0M955.4 488.6h0M956.7 854h0M957.5 856h0M957.9 861h0M957.9 868.3h0M957.9 874.6h0M957.9 878.5h0M957.9 882.3h0M957.9 886.2h0M957.9 893.3h0M957.9 899.9h0M957.9 903.8h0M958.4 908h0M986.9 450.9h0M986.9 434.7h0M986.9 424.2h0M986.9 346.2h0M986.9 310.9h0M986.9 296.4h0M987.3 249.8h0M987.6 256.3h0M987.6 259.6h0M987.7 268.9h0M987.7 291.5h0M987.7 302.8h0M987.7 306.4h0M987.7 365h0M987.7 415.4h0M987.7 418.3h0M987.7 440.7h0M987.7 463.6h0M989 839h0M989.8 841h0M990.1 846h0M990.1 850.8h0M990.1 856.6h0M990.1 863.6h0M990.1 867.2h0M990.1 873.9h0M990.1 881.2h0M990.1 887.5h0M990.1 894.5h0M990.6 896.5h0M1017.6 426.4h0M1017.6 423.4h0M1017.6 389.7h0M1017.6 337h0M1017.6 319.9h0M1017.6 318.2h0M1017.6 263.5h0M1018 215.4h0M1018.3 221.9h0M1018.3 225.2h0M1018.4 265.3h0M1018.4 297.5h0M1018.4 328.4h0M1018.4 337.8h0M1018.4 345.6h0M1018.4 345.8h0M1018.4 381.1h0M1018.4 393.5h0M1019.6 823h0M1020.5 825h0M1020.8 830h0M1020.8 834h0M1020.8 840h0M1020.8 844.6h0M1020.8 849.4h0M1020.8 856.4h0M1020.8 862.2h0M1020.8 868.3h0M1020.8 875.3h0M1021.3 883.3h0M1047.9 292.2h0M1047.9 280h0M1047.9 278.5h0M1047.9 273.6h0M1047.9 255.5h0M1047.9 237.1h0M1048.3 158.9h0M1048.6 165.4h0M1048.6 168.7h0M1048.7 235.2h0M1048.7 286.4h0M1048.7 305.5h0M1048.7 338.3h0M1048.7 371.3h0M1048.7 379.8h0M1048.7 395.1h0M1048.7 395.2h0M1048.7 395.5h0M1049.9 808h0M1050.7 810h0M1051.1 815h0M1051.1 819.3h0M1051.1 823.4h0M1051.1 829.1h0M1051.1 833.1h0M1051.1 837.8h0M1051.1 841.8h0M1051.1 848.6h0M1051.1 855.9h0M1051.1 863.8h0M1051.1 868.2h0M1051.5 870.9h0M1076.3 334.7h0M1076.3 317.3h0M1076.3 276.7h0M1076.3 256.5h0M1076.3 166.7h0M1076.3 150.9h0M1076.3 147.5h0M1077.2 185.3h0M1077.2 193.2h0M1077.2 221.7h0M1077.2 226.5h0M1077.2 247.9h0M1077.2 267.4h0M1077.2 315.4h0M1077.2 341h0M1077.2 377.5h0M1078.4 792h0M1079.2 794h0M1079.5 799h0M1079.5 802.8h0M1079.5 809.3h0M1079.5 815.2h0M1079.5 819h0M1079.5 824.4h0M1079.5 831.2h0M1079.5 837.4h0M1079.5 841.5h0M1079.5 850.1h0M1080 856.6h0M1104.6 333.3h0M1104.6 315.2h0M1104.6 287.7h0M1104.6 286.7h0M1104.6 184h0M1105.4 177h0M1105.4 199.5h0M1105.4 233.3h0M1105.4 264h0M1105.4 315.3h0M1105.4 334.4h0M1105.4 336h0M1106.6 777h0M1107.4 779h0M1107.7 784h0M1107.7 791.4h0M1107.7 795.7h0M1107.7 799.9h0M1107.7 807.3h0M1107.7 813.3h0M1107.7 817.5h0M1107.7 826.2h0M1107.7 833.3h0M1108.2 842h0M1132.1 300.8h0M1132.1 253.3h0M1132.1 233.4h0M1132.1 216.1h0M1132.1 162.2h0M1132.9 163.7h0M1132.9 167.2h0M1132.9 173h0M1132.9 186.6h0M1132.9 191.9h0M1132.9 238h0M1132.9 309.1h0M1134.1 759h0M1134.9 761h0M1135.2 766h0M1135.2 770.2h0M1135.2 775.3h0M1135.2 780.9h0M1135.2 786.5h0M1135.2 794.5h0M1135.2 800h0M1135.2 806.6h0M1135.2 811.5h0M1135.2 817.3h0M1135.2 821.4h0M1135.6 827.7h0M1159.1 255.4h0M1159.1 213.8h0M1159.1 202.7h0M1159.1 176.2h0M1159.9 158.1h0M1159.9 206.6h0M1159.9 216h0M1159.9 264.2h0M1159.9 266.5h0M1159.9 281.4h0M1161.1 743h0M1161.8 745h0M1162.1 750h0M1162.1 756.2h0M1162.1 763.1h0M1162.1 770.9h0M1162.1 780.3h0M1162.1 786.2h0M1162.1 794.9h0M1162.1 802.8h0M1162.1 810.3h0M1162.6 813.1h0M1185.6 250.9h0M1185.6 202.5h0M1185.6 179.9h0M1185.6 155.3h0M1185.6 150.4h0M1186.4 146.9h0M1186.4 185.6h0M1186.4 200.4h0M1186.4 219.3h0M1186.4 255.6h0M1187.6 725h0M1188.3 727h0M1188.6 732h0M1188.6 739.3h0M1188.6 747.2h0M1188.6 751.5h0M1188.6 756.6h0M1188.6 762.1h0M1188.6 766.2h0M1188.6 772.3h0M1188.6 778.2h0M1188.6 787.6h0M1188.6 793.5h0M1189 795.8h0M1211.1 221.6h0M1211.1 191h0M1211.1 188.8h0M1211.1 180.8h0M1211.1 178.3h0M1211.9 146.2h0M1211.9 156.1h0M1211.9 161.6h0M1211.9 173.6h0M1211.9 182.9h0M1213 707h0M1213.8 709h0M1214 714h0M1214 718.3h0M1214 722.5h0M1214 728.2h0M1214 733.6h0M1214 740.9h0M1214 747.8h0M1214 756h0M1214 763.6h0M1214 771.6h0M1214.5 780.1h0M1235.1 173.5h0M1235.1 162h0M1235.1 155.2h0M1235.1 149.6h0M1235.9 144.3h0M1235.9 160.2h0M1235.9 164.9h0M1235.9 175.4h0M1235.9 176.2h0M1235.9 182.4h0M1237 689h0M1237.8 691h0M1238 696h0M1238 702.8h0M1238 711.9h0M1238 720h0M1238 727.2h0M1238 735.7h0M1238 739.9h0M1238 747.7h0M1238 756.1h0M1238.5 764.2h0M1259.6 154.8h0M1259.6 153.8h0M1259.6 147.3h0M1259.6 141.4h0M1260.4 139.6h0M1260.4 144.4h0M1260.4 146.2h0M1261.5 669h0M1262.3 671h0M1262.5 676h0M1262.5 681.5h0M1262.5 688.1h0M1262.5 692.5h0M1262.5 701.7h0M1262.5 710.7h0M1262.5 715.2h0M1262.5 722.2h0M1262.5 730.3h0M1262.5 737h0M1262.9 743h0M1284.7 650h0M1285.4 652h0M1285.6 657h0M1285.6 664.4h0M1285.6 672h0M1285.6 676.5h0M1285.6 681.4h0M1285.6 686.9h0M1285.6 695h0M1285.6 700.7h0M1285.6 707.9h0M1285.6 712h0M1285.6 716.4h0M1285.6 722h0M1286.1 725.1h0M1307.5 631h0M1308.2 633h0M1308.4 638h0M1308.4 642.2h0M1308.4 648.8h0M1308.4 657.3h0M1308.4 666.6h0M1308.4 673.2h0M1308.4 678.7h0M1308.4 683.9h0M1308.4 693.2h0M1308.4 698.4h0M1308.8 704.5h0M1329.5 607h0M1330.2 609h0M1330.4 614h0M1330.4 623h0M1330.4 629.7h0M1330.4 633.9h0M1330.4 638h0M1330.4 644.8h0M1330.4 651.3h0M1330.4 657h0M1330.4 661.9h0M1330.4 667.8h0M1330.4 673.6h0M1330.8 682.5h0M1351.2 585h0M1351.9 587h0M1352 592h0M1352 598.1h0M1352 604.3h0M1352 613.8h0M1352 621.1h0M1352 627.2h0M1352 633.6h0M1352 639.1h0M1352 643.5h0M1352 648.1h0M1352 656.7h0M1352.5 661.9h0M1372.9 560h0M1373.5 562h0M1373.7 567h0M1373.7 573.4h0M1373.7 577.6h0M1373.7 585.9h0M1373.7 592.1h0M1373.7 601h0M1373.7 608.1h0M1373.7 613.2h0M1373.7 617.8h0M1373.7 626.9h0M1373.7 633.2h0M1374.1 638.5h0M1393.6 531h0M1394.3 533h0M1394.5 538h0M1394.5 544.3h0M1394.5 549.9h0M1394.5 555.4h0M1394.5 563.5h0M1394.5 571.2h0M1394.5 577.4h0M1394.5 582.8h0M1394.5 589.5h0M1394.5 597.2h0M1394.5 602h0M1394.5 609.6h0M1394.9 613.8h0M1413.6 506h0M1414.3 508h0M1414.4 513h0M1414.4 518h0M1414.4 525.1h0M1414.4 531h0M1414.4 537h0M1414.4 545.5h0M1414.4 550.7h0M1414.4 554.9h0M1414.4 563.7h0M1414.4 569.9h0M1414.4 578h0M1414.4 583.2h0M1414.8 589.4h0M1433.4 481h0M1434.1 483h0M1434.2 488h0M1434.2 494.8h0M1434.2 502.3h0M1434.2 511.1h0M1434.2 516.4h0M1434.2 521.9h0M1434.2 527.3h0M1434.2 533.6h0M1434.2 540.1h0M1434.2 549.4h0M1434.2 558.1h0M1434.6 560.6h0M1452.8 450h0M1453.4 452h0M1453.6 457h0M1453.6 461.3h0M1453.6 469.2h0M1453.6 478.1h0M1453.6 484.8h0M1453.6 492.1h0M1453.6 496.2h0M1453.6 502.4h0M1453.6 511.5h0M1453.6 520.1h0M1453.6 528.8h0M1454 531.9h0M1471.8 421h0M1472.4 423h0M1472.5 428h0M1472.5 433.3h0M1472.5 438.2h0M1472.5 447.6h0M1472.5 452.2h0M1472.5 460.8h0M1472.5 468.7h0M1472.5 477.4h0M1472.5 486.3h0M1472.5 490.9h0M1472.9 500.1h0M1489.7 389.6h0M1490.3 391.6h0M1490.4 396.6h0M1490.4 401.9h0M1490.4 411h0M1490.4 418.6h0M1490.4 424.4h0M1490.4 429.1h0M1490.4 434.6h0M1490.4 442.1h0M1490.4 450h0M1490.4 454.7h0M1490.4 459.2h0M1490.8 466.6h0M1508 354h0M1508.6 356h0M1508.7 361h0M1508.7 367.2h0M1508.7 372.5h0M1508.7 379.8h0M1508.7 384h0M1508.7 389.7h0M1508.7 396.3h0M1508.7 405.6h0M1508.7 413.2h0M1508.7 422.1h0M1508.7 428.7h0M1509 431.7h0M1525.6 317.5h0M1526.2 319.5h0M1526.3 324.5h0M1526.3 333.8h0M1526.3 341.7h0M1526.3 347.5h0M1526.3 351.7h0M1526.3 358.5h0M1526.3 366.2h0M1526.3 372.6h0M1526.3 378.1h0M1526.3 385.8h0M1526.7 392.8h0M1543.3 278h0M1543.9 280h0M1544 285h0M1544 289.3h0M1544 295.2h0M1544 301.6h0M1544 309.3h0M1544 314.5h0M1544 322.9h0M1544 331h0M1544 337.8h0M1544 343h0M1544.4 348.6h0M1560.5 235h0M1561.1 237h0M1561.2 242h0M1561.2 247.3h0M1561.2 252.6h0M1561.2 260.8h0M1561.2 266.5h0M1561.2 275.8h0M1561.2 282.6h0M1561.2 287.7h0M1561.2 293h0M1561.5 300h0M1576.6 186.7h0M1577.2 188.7h0M1577.2 193.7h0M1577.2 202.9h0M1577.2 207.8h0M1577.2 214h0M1577.2 219.3h0M1577.2 228.7h0M1577.2 233.5h0M1577.2 237.9h0M1577.2 242.3h0M1577.6 247.9h0M1594.9 155.6h0M1594.9 166.9h0M1594.9 172.6h0M1594.9 183.9h0M1594.9 189.6h0"/>
</g>
<path d="M458.1 144V1069M1394.3 144V1069" stroke="#00f" stroke-width="4.17" fill="none"/>
<path d="M250 818.9H1801" stroke="#008000" stroke-width="4.17" fill="none"/>
<path d="M250 607.5H1801M250 733.8H1801" stroke="#ffa500" stroke-width="1.8" fill="none"/>
<g fill="#90ee90"><circle cx="587.9" cy="825.5" r="4.2"/><circle cx="588.2" cy="834.5" r="4.2"/><circle cx="587" cy="838.8" r="4.2"/><circle cx="587.9" cy="847.3" r="4.2"/><circle cx="587.8" cy="849.6" r="4.2"/><circle cx="587.3" cy="854.2" r="4.2"/><circle cx="587" cy="858.5" r="4.2"/><circle cx="587.1" cy="860.6" r="4.2"/><circle cx="588.2" cy="865" r="4.2"/><circle cx="588.2" cy="867.9" r="4.2"/><circle cx="587.3" cy="871.3" r="4.2"/><circle cx="588" cy="879.1" r="4.2"/><circle cx="586.8" cy="884.1" r="4.2"/><circle cx="587.3" cy="889.4" r="4.2"/><circle cx="587" cy="897.9" r="4.2"/><circle cx="588.1" cy="902.4" r="4.2"/><circle cx="587.4" cy="904.6" r="4.2"/><circle cx="587.9" cy="912.3" r="4.2"/><circle cx="586.8" cy="914.6" r="4.2"/><circle cx="588.2" cy="917" r="4.2"/><circle cx="587.9" cy="920.8" r="4.2"/><circle cx="587.2" cy="929.1" r="4.2"/><circle cx="588.2" cy="933" r="4.2"/><circle cx="667" cy="641" r="4.2"/><circle cx="667.1" cy="651.6" r="4.2"/><circle cx="666.7" cy="660" r="4.2"/><circle cx="667.8" cy="670.7" r="4.2"/><circle cx="667.8" cy="680.9" r="4.2"/><circle cx="667" cy="688" r="4.2"/><circle cx="667.8" cy="697.4" r="4.2"/><circle cx="667.2" cy="709.2" r="4.2"/><circle cx="667.2" cy="723.7" r="4.2"/><circle cx="667.8" cy="739.6" r="4.2"/><circle cx="667.7" cy="753.7" r="4.2"/><circle cx="667.7" cy="771.2" r="4.2"/><circle cx="667.4" cy="788.8" r="4.2"/><circle cx="667.1" cy="803.8" r="4.2"/><circle cx="667.6" cy="818.9" r="4.2"/><circle cx="666.9" cy="821.8" r="4.2"/><circle cx="667" cy="827.7" r="4.2"/><circle cx="666.7" cy="830.5" r="4.2"/><circle cx="667.1" cy="835.5" r="4.2"/><circle cx="667.8" cy="842.4" r="4.2"/><circle cx="667" cy="849.3" r="4.2"/><circle cx="666.8" cy="852.2" r="4.2"/><circle cx="667.6" cy="856.9" r="4.2"/><circle cx="667" cy="861.5" r="4.2"/><circle cx="667.4" cy="865.8" r="4.2"/><circle cx="667.6" cy="871.4" r="4.2"/><circle cx="667.5" cy="877.7" r="4.2"/><circle cx="667.7" cy="880.7" r="4.2"/><circle cx="667.4" cy="884.5" r="4.2"/><circle cx="667.6" cy="888.7" r="4.2"/><circle cx="667" cy="892.1" r="4.2"/><circle cx="666.9" cy="895.7" r="4.2"/></g>
<g stroke="#f00" fill="#f00"><polygon points="587.3,707.1 591.8,720.9 606.2,720.9 594.5,729.3 599,743.1 587.3,734.6 575.6,743.1 580.1,729.3 568.4,720.9 582.8,720.9" stroke-width="1.4"/></g>
<g fill="none" stroke="#ff0" stroke-width="16.4" stroke-linecap="round" stroke-linejoin="round">
<path opacity="0.65" d="M889.2 607.5V818.9M923 607.5V818.9M955.5 607.5V818.9M987.8 607.5V818.9M1018.5 607.5V818.9M1048.8 607.5V813M1077.2 607.5V797M1105.5 607.5V782M1133 607.5V764M1160 607.5V748M1186.5 607.5V730M1212 607.5V712M1236 607.5V694M1260.5 607.5V674M1283.7 607.5V655M1306.5 607.5V636M1328.5 607.5V612"/><path opacity="0.70" d="M854.5 607.5V818.9"/><path opacity="0.75" d="M819.2 607.5V818.9"/><path opacity="0.80" d="M745 653V818.9M782.5 629V818.9"/><path opacity="0.85" d="M586.2 747V818.9M627.2 723.5V818.9M667.2 700V818.9M706.2 676V818.9"/><path opacity="0.95" d="M504.2 798V818.9M546 774V818.9"/>
<path d="M458.8 819.4L460.7 817.5L462.6 818.7M491.1 819.1L495.1 802.4L498.7 793L500.4 791.1L502 791.5L503.5 794.1L504.1 798M528.2 818.9L533.5 790.6L535.9 780.7L538.4 773.1L540.6 768.7L542.5 767L543.8 767.5L544.8 769.1L545.8 774M566.1 818.7L571.3 782.4L576.4 757.5L578.8 749.3L581.2 744.3L582.8 743L584.1 743.8L585 745M604.2 818.8L610.1 772.7L615.8 740.2L618.7 729.1L621.4 722.1L622.7 720.2L623.8 719.5L625.1 720.3L626 721.5M642.6 818.9L648.7 763.1L651.9 740.5L654.9 722.6L658.1 708.4L661.1 699.4L662.4 697.1L663.5 696L665.1 696.8L666 698M680.4 818.8L686.6 753.3L689.9 726.5L693.2 704.7L696.5 687.9L699.7 676.7L701.2 673.5L702.5 672.1L704.1 672.8L705 674M717.7 819.3L724.1 744.5L727.6 713.5L731 688.2L734.6 668.2L737.9 655.2L739.5 651.3L741 649.2L741.5 649L742.9 649.8L743.7 651M754.8 818.2L761 734.8L764.5 699.3L768.1 670.5L771.7 647.7L775.2 632.4L776.9 627.7L778.4 625.3L779 625L780.4 625.8L781.2 627M790.9 819L795.5 745.6L800.9 682.6L806.6 635.5L809.3 619.1L812.1 607.2M826.6 812.5L830 749.7L833.9 692.1L838.3 643.9L842.8 607M862.1 782.9L867.7 684.2L871 643.1L874.4 607.5M896.9 754.5L901.1 675L906.1 607.3M930.6 723.5L933.6 662.2L937.1 607.6M963.3 692.2L967.6 608.1M995.7 661.8L998.1 608.1M1026.7 628.8L1027.6 607.2" opacity="0.97"/>
</g>
<g fill="#ff0" fill-opacity="0.22" stroke="#ff0" stroke-opacity="0.25" stroke-width="1.4"><circle cx="585.4" cy="743" r="7.3"/><circle cx="585.4" cy="742.4" r="7.3"/><circle cx="585.4" cy="736.6" r="7.3"/><circle cx="585.8" cy="727" r="7.3"/><circle cx="586" cy="733.5" r="7.3"/><circle cx="586" cy="736.8" r="7.3"/><circle cx="586.1" cy="729.6" r="7.3"/><circle cx="586.1" cy="730.1" r="7.3"/><circle cx="586.1" cy="731.7" r="7.3"/><circle cx="586.1" cy="735" r="7.3"/><circle cx="586.1" cy="741.6" r="7.3"/><circle cx="626.4" cy="713.8" r="7.3"/><circle cx="626.4" cy="703.8" r="7.3"/><circle cx="626.4" cy="699.1" r="7.3"/><circle cx="626.8" cy="682.5" r="7.3"/><circle cx="627" cy="689" r="7.3"/><circle cx="627" cy="692.3" r="7.3"/><circle cx="627.1" cy="704" r="7.3"/><circle cx="627.1" cy="704.7" r="7.3"/><circle cx="627.1" cy="705.1" r="7.3"/><circle cx="627.1" cy="709" r="7.3"/><circle cx="666.4" cy="669.3" r="7.3"/><circle cx="666.4" cy="667.7" r="7.3"/><circle cx="666.4" cy="665.9" r="7.3"/><circle cx="666.4" cy="653.2" r="7.3"/><circle cx="666.4" cy="645.7" r="7.3"/><circle cx="666.8" cy="640" r="7.3"/><circle cx="667" cy="646.5" r="7.3"/><circle cx="667" cy="649.8" r="7.3"/><circle cx="667.1" cy="647.8" r="7.3"/><circle cx="667.1" cy="653" r="7.3"/><circle cx="667.1" cy="656.6" r="7.3"/><circle cx="667.1" cy="662.6" r="7.3"/><circle cx="667.1" cy="684.6" r="7.3"/><circle cx="705.4" cy="665.8" r="7.3"/><circle cx="705.4" cy="658.6" r="7.3"/><circle cx="705.4" cy="637.2" r="7.3"/><circle cx="706" cy="609" r="7.3"/><circle cx="706" cy="612.3" r="7.3"/><circle cx="706.1" cy="627.2" r="7.3"/><circle cx="706.1" cy="644.1" r="7.3"/><circle cx="706.1" cy="645.5" r="7.3"/><circle cx="706.1" cy="650.3" r="7.3"/><circle cx="706.1" cy="652" r="7.3"/><circle cx="706.1" cy="656.5" r="7.3"/><circle cx="706.1" cy="663.8" r="7.3"/><circle cx="744.9" cy="622.1" r="7.3"/><circle cx="782.4" cy="612.5" r="7.3"/><circle cx="782.4" cy="619.7" r="7.3"/><circle cx="826.3" cy="818.2" r="7.3"/><circle cx="826.4" cy="816.3" r="7.3"/><circle cx="826.5" cy="814.4" r="7.3"/><circle cx="860.6" cy="817.8" r="7.3"/><circle cx="860.7" cy="815.6" r="7.3"/><circle cx="860.8" cy="813.4" r="7.3"/><circle cx="860.9" cy="811.2" r="7.3"/><circle cx="861" cy="809.1" r="7.3"/><circle cx="861" cy="806.9" r="7.3"/><circle cx="861.1" cy="804.8" r="7.3"/><circle cx="861.2" cy="802.7" r="7.3"/><circle cx="861.3" cy="800.7" r="7.3"/><circle cx="861.4" cy="798.6" r="7.3"/><circle cx="861.5" cy="796.6" r="7.3"/><circle cx="861.6" cy="794.6" r="7.3"/><circle cx="861.7" cy="792.6" r="7.3"/><circle cx="861.7" cy="790.6" r="7.3"/><circle cx="861.8" cy="788.7" r="7.3"/><circle cx="861.9" cy="786.8" r="7.3"/><circle cx="862" cy="784.8" r="7.3"/><circle cx="894.5" cy="818.5" r="7.3"/><circle cx="894.5" cy="815.9" r="7.3"/><circle cx="894.6" cy="813.3" r="7.3"/><circle cx="894.7" cy="810.8" r="7.3"/><circle cx="894.8" cy="808.3" r="7.3"/><circle cx="894.9" cy="805.8" r="7.3"/><circle cx="895" cy="803.4" r="7.3"/><circle cx="895" cy="801" r="7.3"/><circle cx="895.1" cy="798.6" r="7.3"/><circle cx="895.2" cy="796.3" r="7.3"/><circle cx="895.3" cy="794" r="7.3"/><circle cx="895.4" cy="791.7" r="7.3"/><circle cx="895.5" cy="789.5" r="7.3"/><circle cx="895.6" cy="787.2" r="7.3"/><circle cx="895.6" cy="785" r="7.3"/><circle cx="895.7" cy="782.9" r="7.3"/><circle cx="895.8" cy="780.7" r="7.3"/><circle cx="895.9" cy="778.6" r="7.3"/><circle cx="896" cy="776.4" r="7.3"/><circle cx="896.1" cy="774.3" r="7.3"/><circle cx="896.1" cy="772.3" r="7.3"/><circle cx="896.2" cy="770.2" r="7.3"/><circle cx="896.3" cy="768.2" r="7.3"/><circle cx="896.4" cy="766.2" r="7.3"/><circle cx="896.5" cy="764.2" r="7.3"/><circle cx="896.6" cy="762.2" r="7.3"/><circle cx="896.6" cy="760.2" r="7.3"/><circle cx="896.7" cy="758.3" r="7.3"/><circle cx="896.8" cy="756.4" r="7.3"/><circle cx="927.5" cy="816.3" r="7.3"/><circle cx="927.6" cy="813.2" r="7.3"/><circle cx="927.7" cy="810.1" r="7.3"/><circle cx="927.7" cy="807.2" r="7.3"/><circle cx="927.8" cy="804.3" r="7.3"/><circle cx="927.9" cy="801.4" r="7.3"/><circle cx="928" cy="798.6" r="7.3"/><circle cx="928.1" cy="795.8" r="7.3"/><circle cx="928.1" cy="793.1" r="7.3"/><circle cx="928.2" cy="790.4" r="7.3"/><circle cx="928.3" cy="787.7" r="7.3"/><circle cx="928.4" cy="785.1" r="7.3"/><circle cx="928.5" cy="782.6" r="7.3"/><circle cx="928.6" cy="780" r="7.3"/><circle cx="928.6" cy="777.6" r="7.3"/><circle cx="928.7" cy="775.1" r="7.3"/><circle cx="928.8" cy="772.7" r="7.3"/><circle cx="928.9" cy="770.3" r="7.3"/><circle cx="929" cy="767.9" r="7.3"/><circle cx="929" cy="765.5" r="7.3"/><circle cx="929.1" cy="763.2" r="7.3"/><circle cx="929.2" cy="760.9" r="7.3"/><circle cx="929.3" cy="758.7" r="7.3"/><circle cx="929.4" cy="756.4" r="7.3"/><circle cx="929.4" cy="754.2" r="7.3"/><circle cx="929.5" cy="752" r="7.3"/><circle cx="929.6" cy="749.9" r="7.3"/><circle cx="929.7" cy="747.7" r="7.3"/><circle cx="929.8" cy="745.6" r="7.3"/><circle cx="929.8" cy="743.5" r="7.3"/><circle cx="929.9" cy="741.4" r="7.3"/><circle cx="930" cy="739.3" r="7.3"/><circle cx="930.1" cy="737.3" r="7.3"/><circle cx="930.2" cy="735.3" r="7.3"/><circle cx="930.2" cy="733.3" r="7.3"/><circle cx="930.3" cy="731.3" r="7.3"/><circle cx="930.4" cy="729.3" r="7.3"/><circle cx="930.5" cy="727.4" r="7.3"/><circle cx="930.6" cy="725.4" r="7.3"/><circle cx="959.4" cy="819.2" r="7.3"/><circle cx="959.5" cy="815.3" r="7.3"/><circle cx="959.6" cy="811.5" r="7.3"/><circle cx="959.6" cy="807.8" r="7.3"/><circle cx="959.7" cy="804.2" r="7.3"/><circle cx="959.8" cy="800.7" r="7.3"/><circle cx="959.9" cy="797.3" r="7.3"/><circle cx="960" cy="794" r="7.3"/><circle cx="960" cy="790.7" r="7.3"/><circle cx="960.1" cy="787.6" r="7.3"/><circle cx="960.2" cy="784.4" r="7.3"/><circle cx="960.3" cy="781.4" r="7.3"/><circle cx="960.4" cy="778.4" r="7.3"/><circle cx="960.4" cy="775.5" r="7.3"/><circle cx="960.5" cy="772.6" r="7.3"/><circle cx="960.6" cy="769.7" r="7.3"/><circle cx="960.7" cy="766.9" r="7.3"/><circle cx="960.8" cy="764.2" r="7.3"/><circle cx="960.8" cy="761.5" r="7.3"/><circle cx="960.9" cy="758.8" r="7.3"/><circle cx="961" cy="756.2" r="7.3"/><circle cx="961.1" cy="753.6" r="7.3"/><circle cx="961.2" cy="751" r="7.3"/><circle cx="961.2" cy="748.5" r="7.3"/><circle cx="961.3" cy="746" r="7.3"/><circle cx="961.4" cy="743.6" r="7.3"/><circle cx="961.5" cy="741.1" r="7.3"/><circle cx="961.6" cy="738.7" r="7.3"/><circle cx="961.6" cy="736.4" r="7.3"/><circle cx="961.7" cy="734" r="7.3"/><circle cx="961.8" cy="731.7" r="7.3"/><circle cx="961.9" cy="729.4" r="7.3"/><circle cx="962" cy="727.2" r="7.3"/><circle cx="962" cy="725" r="7.3"/><circle cx="962.1" cy="722.7" r="7.3"/><circle cx="962.2" cy="720.6" r="7.3"/><circle cx="962.3" cy="718.4" r="7.3"/><circle cx="962.4" cy="716.3" r="7.3"/><circle cx="962.4" cy="714.1" r="7.3"/><circle cx="962.5" cy="712" r="7.3"/><circle cx="962.6" cy="710" r="7.3"/><circle cx="962.7" cy="707.9" r="7.3"/><circle cx="962.7" cy="705.9" r="7.3"/><circle cx="962.8" cy="703.9" r="7.3"/><circle cx="962.9" cy="701.9" r="7.3"/><circle cx="963" cy="699.9" r="7.3"/><circle cx="963.1" cy="697.9" r="7.3"/><circle cx="963.1" cy="696" r="7.3"/><circle cx="963.2" cy="694.1" r="7.3"/><circle cx="991.5" cy="815.9" r="7.3"/><circle cx="991.6" cy="811" r="7.3"/><circle cx="991.7" cy="806.4" r="7.3"/><circle cx="991.8" cy="801.9" r="7.3"/><circle cx="991.9" cy="797.6" r="7.3"/><circle cx="992" cy="793.4" r="7.3"/><circle cx="992" cy="789.4" r="7.3"/><circle cx="992.1" cy="785.5" r="7.3"/><circle cx="992.2" cy="781.7" r="7.3"/><circle cx="992.3" cy="778.1" r="7.3"/><circle cx="992.3" cy="774.5" r="7.3"/><circle cx="992.4" cy="771" r="7.3"/><circle cx="992.5" cy="767.6" r="7.3"/><circle cx="992.6" cy="764.2" r="7.3"/><circle cx="992.6" cy="761" r="7.3"/><circle cx="992.7" cy="757.8" r="7.3"/><circle cx="992.8" cy="754.6" r="7.3"/><circle cx="992.9" cy="751.6" r="7.3"/><circle cx="993" cy="748.5" r="7.3"/><circle cx="993" cy="745.6" r="7.3"/><circle cx="993.1" cy="742.7" r="7.3"/><circle cx="993.2" cy="739.8" r="7.3"/><circle cx="993.3" cy="737" r="7.3"/><circle cx="993.3" cy="734.2" r="7.3"/><circle cx="993.4" cy="731.5" r="7.3"/><circle cx="993.5" cy="728.8" r="7.3"/><circle cx="993.6" cy="726.1" r="7.3"/><circle cx="993.6" cy="723.5" r="7.3"/><circle cx="993.7" cy="721" r="7.3"/><circle cx="993.8" cy="718.4" r="7.3"/><circle cx="993.9" cy="715.9" r="7.3"/><circle cx="993.9" cy="713.4" r="7.3"/><circle cx="994" cy="711" r="7.3"/><circle cx="994.1" cy="708.6" r="7.3"/><circle cx="994.2" cy="706.2" r="7.3"/><circle cx="994.2" cy="703.8" r="7.3"/><circle cx="994.3" cy="701.5" r="7.3"/><circle cx="994.4" cy="699.2" r="7.3"/><circle cx="994.5" cy="697" r="7.3"/><circle cx="994.5" cy="694.7" r="7.3"/><circle cx="994.6" cy="692.5" r="7.3"/><circle cx="994.7" cy="690.3" r="7.3"/><circle cx="994.7" cy="688.1" r="7.3"/><circle cx="994.8" cy="686" r="7.3"/><circle cx="994.9" cy="683.8" r="7.3"/><circle cx="995" cy="681.7" r="7.3"/><circle cx="995" cy="679.6" r="7.3"/><circle cx="995.1" cy="677.6" r="7.3"/><circle cx="995.2" cy="675.5" r="7.3"/><circle cx="995.3" cy="673.5" r="7.3"/><circle cx="995.3" cy="671.5" r="7.3"/><circle cx="995.4" cy="669.5" r="7.3"/><circle cx="995.5" cy="667.6" r="7.3"/><circle cx="995.6" cy="665.6" r="7.3"/><circle cx="995.6" cy="663.7" r="7.3"/><circle cx="1022.1" cy="817.1" r="7.3"/><circle cx="1022.2" cy="810.4" r="7.3"/><circle cx="1022.3" cy="804.1" r="7.3"/><circle cx="1022.4" cy="798.3" r="7.3"/><circle cx="1022.5" cy="792.8" r="7.3"/><circle cx="1022.6" cy="787.6" r="7.3"/><circle cx="1022.7" cy="782.6" r="7.3"/><circle cx="1022.7" cy="777.9" r="7.3"/><circle cx="1022.8" cy="773.3" r="7.3"/><circle cx="1022.9" cy="768.9" r="7.3"/><circle cx="1023" cy="764.7" r="7.3"/><circle cx="1023.1" cy="760.6" r="7.3"/><circle cx="1023.1" cy="756.6" r="7.3"/><circle cx="1023.2" cy="752.7" r="7.3"/><circle cx="1023.3" cy="749" r="7.3"/><circle cx="1023.4" cy="745.3" r="7.3"/><circle cx="1023.4" cy="741.7" r="7.3"/><circle cx="1023.5" cy="738.2" r="7.3"/><circle cx="1023.6" cy="734.8" r="7.3"/><circle cx="1023.7" cy="731.5" r="7.3"/><circle cx="1023.8" cy="728.2" r="7.3"/><circle cx="1023.8" cy="725" r="7.3"/><circle cx="1023.9" cy="721.9" r="7.3"/><circle cx="1024" cy="718.8" r="7.3"/><circle cx="1024.1" cy="715.8" r="7.3"/><circle cx="1024.1" cy="712.8" r="7.3"/><circle cx="1024.2" cy="709.9" r="7.3"/><circle cx="1024.3" cy="707" r="7.3"/><circle cx="1024.3" cy="704.2" r="7.3"/><circle cx="1024.4" cy="701.4" r="7.3"/><circle cx="1024.5" cy="698.7" r="7.3"/><circle cx="1024.6" cy="696" r="7.3"/><circle cx="1024.6" cy="693.3" r="7.3"/><circle cx="1024.7" cy="690.7" r="7.3"/><circle cx="1024.8" cy="688.1" r="7.3"/><circle cx="1024.9" cy="685.6" r="7.3"/><circle cx="1024.9" cy="683" r="7.3"/><circle cx="1025" cy="680.6" r="7.3"/><circle cx="1025.1" cy="678.1" r="7.3"/><circle cx="1025.2" cy="675.7" r="7.3"/><circle cx="1025.2" cy="673.3" r="7.3"/><circle cx="1025.3" cy="671" r="7.3"/><circle cx="1025.4" cy="668.6" r="7.3"/><circle cx="1025.4" cy="666.3" r="7.3"/><circle cx="1025.5" cy="664" r="7.3"/><circle cx="1025.6" cy="661.8" r="7.3"/><circle cx="1025.7" cy="659.6" r="7.3"/><circle cx="1025.7" cy="657.4" r="7.3"/><circle cx="1025.8" cy="655.2" r="7.3"/><circle cx="1025.9" cy="653" r="7.3"/><circle cx="1026" cy="650.9" r="7.3"/><circle cx="1026" cy="648.8" r="7.3"/><circle cx="1026.1" cy="646.7" r="7.3"/><circle cx="1026.2" cy="644.7" r="7.3"/><circle cx="1026.2" cy="642.6" r="7.3"/><circle cx="1026.3" cy="640.6" r="7.3"/><circle cx="1026.4" cy="638.6" r="7.3"/><circle cx="1026.5" cy="636.6" r="7.3"/><circle cx="1026.5" cy="634.6" r="7.3"/><circle cx="1026.6" cy="632.7" r="7.3"/><circle cx="1026.7" cy="630.8" r="7.3"/><circle cx="1049.9" cy="808" r="7.3"/><circle cx="1050.7" cy="810" r="7.3"/><circle cx="1051.1" cy="815" r="7.3"/><circle cx="1051.1" cy="819.3" r="7.3"/><circle cx="1052.4" cy="812.7" r="7.3"/><circle cx="1052.5" cy="803.5" r="7.3"/><circle cx="1052.6" cy="795.4" r="7.3"/><circle cx="1052.7" cy="788.1" r="7.3"/><circle cx="1052.8" cy="781.4" r="7.3"/><circle cx="1052.9" cy="775.1" r="7.3"/><circle cx="1053" cy="769.3" r="7.3"/><circle cx="1053.1" cy="763.7" r="7.3"/><circle cx="1053.2" cy="758.4" r="7.3"/><circle cx="1053.3" cy="753.4" r="7.3"/><circle cx="1053.3" cy="748.6" r="7.3"/><circle cx="1053.4" cy="743.9" r="7.3"/><circle cx="1053.5" cy="739.5" r="7.3"/><circle cx="1053.6" cy="735.1" r="7.3"/><circle cx="1053.6" cy="730.9" r="7.3"/><circle cx="1053.7" cy="726.9" r="7.3"/><circle cx="1053.8" cy="722.9" r="7.3"/><circle cx="1053.9" cy="719.1" r="7.3"/><circle cx="1053.9" cy="715.4" r="7.3"/><circle cx="1054" cy="711.7" r="7.3"/><circle cx="1054.1" cy="708.2" r="7.3"/><circle cx="1054.1" cy="704.7" r="7.3"/><circle cx="1054.2" cy="701.3" r="7.3"/><circle cx="1054.3" cy="698" r="7.3"/><circle cx="1054.3" cy="694.7" r="7.3"/><circle cx="1054.4" cy="691.5" r="7.3"/><circle cx="1054.5" cy="688.4" r="7.3"/><circle cx="1054.6" cy="685.3" r="7.3"/><circle cx="1054.6" cy="682.3" r="7.3"/><circle cx="1054.7" cy="679.3" r="7.3"/><circle cx="1054.8" cy="676.4" r="7.3"/><circle cx="1054.8" cy="673.5" r="7.3"/><circle cx="1054.9" cy="670.7" r="7.3"/><circle cx="1055" cy="667.9" r="7.3"/><circle cx="1055" cy="665.2" r="7.3"/><circle cx="1055.1" cy="662.5" r="7.3"/><circle cx="1055.2" cy="659.8" r="7.3"/><circle cx="1055.2" cy="657.2" r="7.3"/><circle cx="1055.3" cy="654.7" r="7.3"/><circle cx="1055.4" cy="652.1" r="7.3"/><circle cx="1055.4" cy="649.6" r="7.3"/><circle cx="1055.5" cy="647.1" r="7.3"/><circle cx="1055.6" cy="644.7" r="7.3"/><circle cx="1055.6" cy="642.3" r="7.3"/><circle cx="1055.7" cy="639.9" r="7.3"/><circle cx="1055.8" cy="637.5" r="7.3"/><circle cx="1055.8" cy="635.2" r="7.3"/><circle cx="1055.9" cy="632.9" r="7.3"/><circle cx="1056" cy="630.6" r="7.3"/><circle cx="1056" cy="628.4" r="7.3"/><circle cx="1056.1" cy="626.2" r="7.3"/><circle cx="1056.2" cy="624" r="7.3"/><circle cx="1056.2" cy="621.8" r="7.3"/><circle cx="1056.3" cy="619.6" r="7.3"/><circle cx="1056.4" cy="617.5" r="7.3"/><circle cx="1056.4" cy="615.4" r="7.3"/><circle cx="1056.5" cy="613.3" r="7.3"/><circle cx="1056.5" cy="611.3" r="7.3"/><circle cx="1056.6" cy="609.2" r="7.3"/><circle cx="1056.7" cy="607.2" r="7.3"/><circle cx="1078.4" cy="792" r="7.3"/><circle cx="1079.2" cy="794" r="7.3"/><circle cx="1079.5" cy="799" r="7.3"/><circle cx="1079.5" cy="802.8" r="7.3"/><circle cx="1079.5" cy="809.3" r="7.3"/><circle cx="1079.5" cy="815.2" r="7.3"/><circle cx="1079.5" cy="819" r="7.3"/><circle cx="1080.7" cy="817.3" r="7.3"/><circle cx="1080.9" cy="801.6" r="7.3"/><circle cx="1081.1" cy="789.7" r="7.3"/><circle cx="1081.2" cy="779.8" r="7.3"/><circle cx="1081.3" cy="771.1" r="7.3"/><circle cx="1081.5" cy="763.3" r="7.3"/><circle cx="1081.6" cy="756.1" r="7.3"/><circle cx="1081.7" cy="749.5" r="7.3"/><circle cx="1081.7" cy="743.2" r="7.3"/><circle cx="1081.8" cy="737.4" r="7.3"/><circle cx="1081.9" cy="731.8" r="7.3"/><circle cx="1082" cy="726.5" r="7.3"/><circle cx="1082.1" cy="721.5" r="7.3"/><circle cx="1082.2" cy="716.6" r="7.3"/><circle cx="1082.2" cy="712" r="7.3"/><circle cx="1082.3" cy="707.4" r="7.3"/><circle cx="1082.4" cy="703.1" r="7.3"/><circle cx="1082.5" cy="698.9" r="7.3"/><circle cx="1082.5" cy="694.8" r="7.3"/><circle cx="1082.6" cy="690.8" r="7.3"/><circle cx="1082.7" cy="686.9" r="7.3"/><circle cx="1082.7" cy="683.2" r="7.3"/><circle cx="1082.8" cy="679.5" r="7.3"/><circle cx="1082.9" cy="675.9" r="7.3"/><circle cx="1082.9" cy="672.4" r="7.3"/><circle cx="1083" cy="669" r="7.3"/><circle cx="1083.1" cy="665.6" r="7.3"/><circle cx="1083.2" cy="662.4" r="7.3"/><circle cx="1083.2" cy="659.1" r="7.3"/><circle cx="1083.3" cy="656" r="7.3"/><circle cx="1083.4" cy="652.9" r="7.3"/><circle cx="1083.4" cy="649.9" r="7.3"/><circle cx="1083.5" cy="646.9" r="7.3"/><circle cx="1083.6" cy="644" r="7.3"/><circle cx="1083.6" cy="641.1" r="7.3"/><circle cx="1083.7" cy="638.2" r="7.3"/><circle cx="1083.8" cy="635.4" r="7.3"/><circle cx="1083.8" cy="632.7" r="7.3"/><circle cx="1083.9" cy="630" r="7.3"/><circle cx="1083.9" cy="627.3" r="7.3"/><circle cx="1084" cy="624.7" r="7.3"/><circle cx="1084.1" cy="622.1" r="7.3"/><circle cx="1084.1" cy="619.6" r="7.3"/><circle cx="1084.2" cy="617.1" r="7.3"/><circle cx="1084.3" cy="614.6" r="7.3"/><circle cx="1084.3" cy="612.1" r="7.3"/><circle cx="1084.4" cy="609.7" r="7.3"/><circle cx="1084.5" cy="607.3" r="7.3"/><circle cx="1106.6" cy="777" r="7.3"/><circle cx="1107.4" cy="779" r="7.3"/><circle cx="1107.7" cy="784" r="7.3"/><circle cx="1107.7" cy="791.4" r="7.3"/><circle cx="1107.7" cy="795.7" r="7.3"/><circle cx="1107.7" cy="799.9" r="7.3"/><circle cx="1107.7" cy="807.3" r="7.3"/><circle cx="1107.7" cy="813.3" r="7.3"/><circle cx="1107.7" cy="817.5" r="7.3"/><circle cx="1108.7" cy="818.6" r="7.3"/><circle cx="1108.8" cy="812.8" r="7.3"/><circle cx="1108.9" cy="806.9" r="7.3"/><circle cx="1109" cy="801.1" r="7.3"/><circle cx="1109.1" cy="795.2" r="7.3"/><circle cx="1109.4" cy="777.9" r="7.3"/><circle cx="1109.6" cy="764.8" r="7.3"/><circle cx="1109.8" cy="754" r="7.3"/><circle cx="1109.9" cy="744.6" r="7.3"/><circle cx="1110" cy="736.2" r="7.3"/><circle cx="1110.1" cy="728.6" r="7.3"/><circle cx="1110.2" cy="721.5" r="7.3"/><circle cx="1110.3" cy="714.9" r="7.3"/><circle cx="1110.4" cy="708.7" r="7.3"/><circle cx="1110.5" cy="702.8" r="7.3"/><circle cx="1110.5" cy="697.2" r="7.3"/><circle cx="1110.6" cy="691.9" r="7.3"/><circle cx="1110.7" cy="686.8" r="7.3"/><circle cx="1110.8" cy="681.9" r="7.3"/><circle cx="1110.8" cy="677.2" r="7.3"/><circle cx="1110.9" cy="672.7" r="7.3"/><circle cx="1111" cy="668.3" r="7.3"/><circle cx="1111.1" cy="664.1" r="7.3"/><circle cx="1111.1" cy="659.9" r="7.3"/><circle cx="1111.2" cy="655.9" r="7.3"/><circle cx="1111.3" cy="652" r="7.3"/><circle cx="1111.3" cy="648.2" r="7.3"/><circle cx="1111.4" cy="644.5" r="7.3"/><circle cx="1111.5" cy="640.9" r="7.3"/><circle cx="1111.5" cy="637.4" r="7.3"/><circle cx="1111.6" cy="633.9" r="7.3"/><circle cx="1111.7" cy="630.5" r="7.3"/><circle cx="1111.7" cy="627.2" r="7.3"/><circle cx="1111.8" cy="624" r="7.3"/><circle cx="1111.8" cy="620.8" r="7.3"/><circle cx="1111.9" cy="617.7" r="7.3"/><circle cx="1112" cy="614.6" r="7.3"/><circle cx="1112" cy="611.6" r="7.3"/><circle cx="1112.1" cy="608.7" r="7.3"/><circle cx="1134.1" cy="759" r="7.3"/><circle cx="1134.9" cy="761" r="7.3"/><circle cx="1135.2" cy="766" r="7.3"/><circle cx="1135.2" cy="770.2" r="7.3"/><circle cx="1135.2" cy="775.3" r="7.3"/><circle cx="1135.2" cy="780.9" r="7.3"/><circle cx="1135.2" cy="786.5" r="7.3"/><circle cx="1135.2" cy="794.5" r="7.3"/><circle cx="1135.2" cy="800" r="7.3"/><circle cx="1135.2" cy="806.6" r="7.3"/><circle cx="1135.2" cy="811.5" r="7.3"/><circle cx="1135.2" cy="817.3" r="7.3"/><circle cx="1135.9" cy="816.6" r="7.3"/><circle cx="1136" cy="811" r="7.3"/><circle cx="1136.1" cy="805.5" r="7.3"/><circle cx="1136.3" cy="799.9" r="7.3"/><circle cx="1136.4" cy="794.4" r="7.3"/><circle cx="1136.5" cy="788.8" r="7.3"/><circle cx="1136.7" cy="783.2" r="7.3"/><circle cx="1136.8" cy="777.7" r="7.3"/><circle cx="1136.9" cy="772.1" r="7.3"/><circle cx="1137.2" cy="752.8" r="7.3"/><circle cx="1137.4" cy="738.6" r="7.3"/><circle cx="1137.6" cy="726.9" r="7.3"/><circle cx="1137.7" cy="716.8" r="7.3"/><circle cx="1137.8" cy="707.8" r="7.3"/><circle cx="1137.9" cy="699.6" r="7.3"/><circle cx="1138" cy="692.1" r="7.3"/><circle cx="1138.1" cy="685.1" r="7.3"/><circle cx="1138.2" cy="678.6" r="7.3"/><circle cx="1138.3" cy="672.4" r="7.3"/><circle cx="1138.4" cy="666.5" r="7.3"/><circle cx="1138.4" cy="661" r="7.3"/><circle cx="1138.5" cy="655.6" r="7.3"/><circle cx="1138.6" cy="650.5" r="7.3"/><circle cx="1138.7" cy="645.6" r="7.3"/><circle cx="1138.7" cy="640.9" r="7.3"/><circle cx="1138.8" cy="636.3" r="7.3"/><circle cx="1138.9" cy="631.9" r="7.3"/><circle cx="1138.9" cy="627.7" r="7.3"/><circle cx="1139" cy="623.5" r="7.3"/><circle cx="1139.1" cy="619.5" r="7.3"/><circle cx="1139.1" cy="615.6" r="7.3"/><circle cx="1139.2" cy="611.7" r="7.3"/><circle cx="1139.2" cy="608" r="7.3"/><circle cx="1161.1" cy="743" r="7.3"/><circle cx="1161.8" cy="745" r="7.3"/><circle cx="1162.1" cy="750" r="7.3"/><circle cx="1162.1" cy="756.2" r="7.3"/><circle cx="1162.1" cy="763.1" r="7.3"/><circle cx="1162.1" cy="770.9" r="7.3"/><circle cx="1162.1" cy="780.3" r="7.3"/><circle cx="1162.1" cy="786.2" r="7.3"/><circle cx="1162.1" cy="794.9" r="7.3"/><circle cx="1162.1" cy="802.8" r="7.3"/><circle cx="1162.1" cy="810.3" r="7.3"/><circle cx="1162.6" cy="813.1" r="7.3"/><circle cx="1162.7" cy="807.6" r="7.3"/><circle cx="1162.8" cy="802.1" r="7.3"/><circle cx="1162.9" cy="796.6" r="7.3"/><circle cx="1163.1" cy="791.1" r="7.3"/><circle cx="1163.2" cy="785.6" r="7.3"/><circle cx="1163.3" cy="780.1" r="7.3"/><circle cx="1163.4" cy="774.5" r="7.3"/><circle cx="1163.6" cy="769" r="7.3"/><circle cx="1163.7" cy="763.5" r="7.3"/><circle cx="1163.8" cy="758" r="7.3"/><circle cx="1163.9" cy="752.5" r="7.3"/><circle cx="1164" cy="747" r="7.3"/><circle cx="1164.3" cy="725.7" r="7.3"/><circle cx="1164.5" cy="710.2" r="7.3"/><circle cx="1164.7" cy="697.5" r="7.3"/><circle cx="1164.8" cy="686.7" r="7.3"/><circle cx="1164.9" cy="677.1" r="7.3"/><circle cx="1165" cy="668.4" r="7.3"/><circle cx="1165.1" cy="660.5" r="7.3"/><circle cx="1165.2" cy="653.1" r="7.3"/><circle cx="1165.2" cy="646.2" r="7.3"/><circle cx="1165.3" cy="639.7" r="7.3"/><circle cx="1165.4" cy="633.6" r="7.3"/><circle cx="1165.4" cy="627.8" r="7.3"/><circle cx="1165.5" cy="622.3" r="7.3"/><circle cx="1165.6" cy="617" r="7.3"/><circle cx="1165.6" cy="611.9" r="7.3"/><circle cx="1187.6" cy="725" r="7.3"/><circle cx="1188.3" cy="727" r="7.3"/><circle cx="1188.6" cy="732" r="7.3"/><circle cx="1188.6" cy="739.3" r="7.3"/><circle cx="1188.6" cy="747.2" r="7.3"/><circle cx="1188.6" cy="751.5" r="7.3"/><circle cx="1188.6" cy="756.6" r="7.3"/><circle cx="1188.6" cy="762.1" r="7.3"/><circle cx="1188.6" cy="766.2" r="7.3"/><circle cx="1188.6" cy="772.3" r="7.3"/><circle cx="1188.6" cy="778.2" r="7.3"/><circle cx="1188.6" cy="787.6" r="7.3"/><circle cx="1188.6" cy="793.5" r="7.3"/><circle cx="1189" cy="795.8" r="7.3"/><circle cx="1189.2" cy="790.2" r="7.3"/><circle cx="1189.3" cy="784.6" r="7.3"/><circle cx="1189.4" cy="779" r="7.3"/><circle cx="1189.5" cy="773.5" r="7.3"/><circle cx="1189.6" cy="767.9" r="7.3"/><circle cx="1189.7" cy="762.3" r="7.3"/><circle cx="1189.8" cy="756.7" r="7.3"/><circle cx="1190" cy="751.1" r="7.3"/><circle cx="1190.1" cy="745.5" r="7.3"/><circle cx="1190.2" cy="739.9" r="7.3"/><circle cx="1190.3" cy="734.4" r="7.3"/><circle cx="1190.4" cy="728.8" r="7.3"/><circle cx="1190.5" cy="723.2" r="7.3"/><circle cx="1190.6" cy="717.6" r="7.3"/><circle cx="1190.9" cy="694.3" r="7.3"/><circle cx="1191.1" cy="677.5" r="7.3"/><circle cx="1191.2" cy="664" r="7.3"/><circle cx="1191.3" cy="652.5" r="7.3"/><circle cx="1191.4" cy="642.3" r="7.3"/><circle cx="1191.5" cy="633.2" r="7.3"/><circle cx="1191.6" cy="624.9" r="7.3"/><circle cx="1191.6" cy="617.2" r="7.3"/><circle cx="1191.7" cy="610" r="7.3"/><circle cx="1213" cy="707" r="7.3"/><circle cx="1213.8" cy="709" r="7.3"/><circle cx="1214" cy="714" r="7.3"/><circle cx="1214" cy="718.3" r="7.3"/><circle cx="1214" cy="722.5" r="7.3"/><circle cx="1214" cy="728.2" r="7.3"/><circle cx="1214" cy="733.6" r="7.3"/><circle cx="1214" cy="740.9" r="7.3"/><circle cx="1214" cy="747.8" r="7.3"/><circle cx="1214" cy="756" r="7.3"/><circle cx="1214" cy="763.6" r="7.3"/><circle cx="1214" cy="771.6" r="7.3"/><circle cx="1214.5" cy="780.1" r="7.3"/><circle cx="1214.6" cy="774.3" r="7.3"/><circle cx="1214.7" cy="768.5" r="7.3"/><circle cx="1214.8" cy="762.7" r="7.3"/><circle cx="1214.9" cy="756.8" r="7.3"/><circle cx="1215" cy="751" r="7.3"/><circle cx="1215.2" cy="745.2" r="7.3"/><circle cx="1215.3" cy="739.4" r="7.3"/><circle cx="1215.4" cy="733.6" r="7.3"/><circle cx="1215.5" cy="727.8" r="7.3"/><circle cx="1215.6" cy="722" r="7.3"/><circle cx="1215.7" cy="716.2" r="7.3"/><circle cx="1215.8" cy="710.3" r="7.3"/><circle cx="1215.9" cy="704.5" r="7.3"/><circle cx="1216" cy="698.7" r="7.3"/><circle cx="1216.1" cy="692.9" r="7.3"/><circle cx="1216.2" cy="687.1" r="7.3"/><circle cx="1216.5" cy="661.5" r="7.3"/><circle cx="1216.6" cy="643.4" r="7.3"/><circle cx="1216.7" cy="629" r="7.3"/><circle cx="1216.8" cy="616.7" r="7.3"/><circle cx="1237" cy="689" r="7.3"/><circle cx="1237.8" cy="691" r="7.3"/><circle cx="1238" cy="696" r="7.3"/><circle cx="1238" cy="702.8" r="7.3"/><circle cx="1238" cy="711.9" r="7.3"/><circle cx="1238" cy="720" r="7.3"/><circle cx="1238" cy="727.2" r="7.3"/><circle cx="1238" cy="735.7" r="7.3"/><circle cx="1238" cy="739.9" r="7.3"/><circle cx="1238" cy="747.7" r="7.3"/><circle cx="1238" cy="756.1" r="7.3"/><circle cx="1238.5" cy="764.2" r="7.3"/><circle cx="1238.6" cy="758.4" r="7.3"/><circle cx="1238.7" cy="752.6" r="7.3"/><circle cx="1238.8" cy="746.7" r="7.3"/><circle cx="1238.9" cy="740.9" r="7.3"/><circle cx="1239" cy="735.1" r="7.3"/><circle cx="1239.1" cy="729.3" r="7.3"/><circle cx="1239.2" cy="723.5" r="7.3"/><circle cx="1239.3" cy="717.6" r="7.3"/><circle cx="1239.3" cy="711.8" r="7.3"/><circle cx="1239.4" cy="706" r="7.3"/><circle cx="1239.5" cy="700.2" r="7.3"/><circle cx="1239.6" cy="694.3" r="7.3"/><circle cx="1239.7" cy="688.5" r="7.3"/><circle cx="1239.8" cy="682.7" r="7.3"/><circle cx="1239.9" cy="676.9" r="7.3"/><circle cx="1240" cy="671.1" r="7.3"/><circle cx="1240.1" cy="665.2" r="7.3"/><circle cx="1240.2" cy="659.4" r="7.3"/><circle cx="1240.3" cy="653.6" r="7.3"/><circle cx="1240.5" cy="625.8" r="7.3"/><circle cx="1261.5" cy="669" r="7.3"/><circle cx="1262.3" cy="671" r="7.3"/><circle cx="1262.5" cy="676" r="7.3"/><circle cx="1262.5" cy="681.5" r="7.3"/><circle cx="1262.5" cy="688.1" r="7.3"/><circle cx="1262.5" cy="692.5" r="7.3"/><circle cx="1262.5" cy="701.7" r="7.3"/><circle cx="1262.5" cy="710.7" r="7.3"/><circle cx="1262.5" cy="715.2" r="7.3"/><circle cx="1262.5" cy="722.2" r="7.3"/><circle cx="1262.5" cy="730.3" r="7.3"/><circle cx="1262.5" cy="737" r="7.3"/><circle cx="1262.9" cy="743" r="7.3"/><circle cx="1263" cy="737.1" r="7.3"/><circle cx="1263.1" cy="731.3" r="7.3"/><circle cx="1263.2" cy="725.4" r="7.3"/><circle cx="1263.3" cy="719.5" r="7.3"/><circle cx="1263.4" cy="713.6" r="7.3"/><circle cx="1263.5" cy="707.8" r="7.3"/><circle cx="1263.6" cy="701.9" r="7.3"/><circle cx="1263.6" cy="696" r="7.3"/><circle cx="1263.7" cy="690.1" r="7.3"/><circle cx="1263.8" cy="684.3" r="7.3"/><circle cx="1263.9" cy="678.4" r="7.3"/><circle cx="1264" cy="672.5" r="7.3"/><circle cx="1264.1" cy="666.6" r="7.3"/><circle cx="1264.2" cy="660.8" r="7.3"/><circle cx="1264.3" cy="654.9" r="7.3"/><circle cx="1264.4" cy="649" r="7.3"/><circle cx="1264.5" cy="643.2" r="7.3"/><circle cx="1264.5" cy="637.3" r="7.3"/><circle cx="1264.6" cy="631.4" r="7.3"/><circle cx="1264.7" cy="625.5" r="7.3"/><circle cx="1264.8" cy="619.7" r="7.3"/><circle cx="1264.9" cy="613.8" r="7.3"/><circle cx="1284.7" cy="650" r="7.3"/><circle cx="1285.4" cy="652" r="7.3"/><circle cx="1285.6" cy="657" r="7.3"/><circle cx="1285.6" cy="664.4" r="7.3"/><circle cx="1285.6" cy="672" r="7.3"/><circle cx="1285.6" cy="676.5" r="7.3"/><circle cx="1285.6" cy="681.4" r="7.3"/><circle cx="1285.6" cy="686.9" r="7.3"/><circle cx="1285.6" cy="695" r="7.3"/><circle cx="1285.6" cy="700.7" r="7.3"/><circle cx="1285.6" cy="707.9" r="7.3"/><circle cx="1285.6" cy="712" r="7.3"/><circle cx="1285.6" cy="716.4" r="7.3"/><circle cx="1285.6" cy="722" r="7.3"/><circle cx="1286.1" cy="725.1" r="7.3"/><circle cx="1286.2" cy="719.3" r="7.3"/><circle cx="1286.3" cy="713.5" r="7.3"/><circle cx="1286.3" cy="707.7" r="7.3"/><circle cx="1286.4" cy="701.9" r="7.3"/><circle cx="1286.5" cy="696.1" r="7.3"/><circle cx="1286.6" cy="690.3" r="7.3"/><circle cx="1286.7" cy="684.4" r="7.3"/><circle cx="1286.8" cy="678.6" r="7.3"/><circle cx="1286.9" cy="672.8" r="7.3"/><circle cx="1287" cy="667" r="7.3"/><circle cx="1287" cy="661.2" r="7.3"/><circle cx="1287.1" cy="655.4" r="7.3"/><circle cx="1287.2" cy="649.6" r="7.3"/><circle cx="1287.3" cy="643.8" r="7.3"/><circle cx="1287.4" cy="638" r="7.3"/><circle cx="1287.5" cy="632.2" r="7.3"/><circle cx="1287.6" cy="626.4" r="7.3"/><circle cx="1287.6" cy="620.6" r="7.3"/><circle cx="1287.7" cy="614.8" r="7.3"/><circle cx="1287.8" cy="608.9" r="7.3"/><circle cx="1307.5" cy="631" r="7.3"/><circle cx="1308.2" cy="633" r="7.3"/><circle cx="1308.4" cy="638" r="7.3"/><circle cx="1308.4" cy="642.2" r="7.3"/><circle cx="1308.4" cy="648.8" r="7.3"/><circle cx="1308.4" cy="657.3" r="7.3"/><circle cx="1308.4" cy="666.6" r="7.3"/><circle cx="1308.4" cy="673.2" r="7.3"/><circle cx="1308.4" cy="678.7" r="7.3"/><circle cx="1308.4" cy="683.9" r="7.3"/><circle cx="1308.4" cy="693.2" r="7.3"/><circle cx="1308.4" cy="698.4" r="7.3"/><circle cx="1308.8" cy="704.5" r="7.3"/><circle cx="1308.9" cy="698.5" r="7.3"/><circle cx="1309" cy="692.5" r="7.3"/><circle cx="1309.1" cy="686.6" r="7.3"/><circle cx="1309.2" cy="680.6" r="7.3"/><circle cx="1309.3" cy="674.6" r="7.3"/><circle cx="1309.4" cy="668.6" r="7.3"/><circle cx="1309.5" cy="662.6" r="7.3"/><circle cx="1309.5" cy="656.6" r="7.3"/><circle cx="1309.6" cy="650.7" r="7.3"/><circle cx="1309.7" cy="644.7" r="7.3"/><circle cx="1309.8" cy="638.7" r="7.3"/><circle cx="1309.9" cy="632.7" r="7.3"/><circle cx="1310" cy="626.7" r="7.3"/><circle cx="1310.1" cy="620.8" r="7.3"/><circle cx="1310.2" cy="614.8" r="7.3"/><circle cx="1310.2" cy="608.8" r="7.3"/><circle cx="1329.5" cy="607" r="7.3"/><circle cx="1330.2" cy="609" r="7.3"/><circle cx="1330.4" cy="614" r="7.3"/><circle cx="1330.4" cy="623" r="7.3"/><circle cx="1330.4" cy="629.7" r="7.3"/><circle cx="1330.4" cy="633.9" r="7.3"/><circle cx="1330.4" cy="638" r="7.3"/><circle cx="1330.4" cy="644.8" r="7.3"/><circle cx="1330.4" cy="651.3" r="7.3"/><circle cx="1330.4" cy="657" r="7.3"/><circle cx="1330.4" cy="661.9" r="7.3"/><circle cx="1330.4" cy="667.8" r="7.3"/><circle cx="1330.4" cy="673.6" r="7.3"/><circle cx="1330.8" cy="682.5" r="7.3"/><circle cx="1330.9" cy="676.6" r="7.3"/><circle cx="1331" cy="670.7" r="7.3"/><circle cx="1331.1" cy="664.8" r="7.3"/><circle cx="1331.1" cy="658.9" r="7.3"/><circle cx="1331.2" cy="653" r="7.3"/><circle cx="1331.3" cy="647.1" r="7.3"/><circle cx="1331.4" cy="641.2" r="7.3"/><circle cx="1331.5" cy="635.3" r="7.3"/><circle cx="1331.6" cy="629.4" r="7.3"/><circle cx="1331.6" cy="623.4" r="7.3"/><circle cx="1331.7" cy="617.5" r="7.3"/><circle cx="1331.8" cy="611.6" r="7.3"/><circle cx="1352" cy="613.8" r="7.3"/><circle cx="1352" cy="621.1" r="7.3"/><circle cx="1352" cy="627.2" r="7.3"/><circle cx="1352" cy="633.6" r="7.3"/><circle cx="1352" cy="639.1" r="7.3"/><circle cx="1352" cy="643.5" r="7.3"/><circle cx="1352" cy="648.1" r="7.3"/><circle cx="1352" cy="656.7" r="7.3"/><circle cx="1352.5" cy="661.9" r="7.3"/><circle cx="1352.5" cy="656" r="7.3"/><circle cx="1352.6" cy="650.2" r="7.3"/><circle cx="1352.7" cy="644.3" r="7.3"/><circle cx="1352.8" cy="638.5" r="7.3"/><circle cx="1352.9" cy="632.6" r="7.3"/><circle cx="1353" cy="626.8" r="7.3"/><circle cx="1353" cy="620.9" r="7.3"/><circle cx="1353.1" cy="615.1" r="7.3"/><circle cx="1353.2" cy="609.2" r="7.3"/><circle cx="1373.7" cy="608.1" r="7.3"/><circle cx="1373.7" cy="613.2" r="7.3"/><circle cx="1373.7" cy="617.8" r="7.3"/><circle cx="1373.7" cy="626.9" r="7.3"/><circle cx="1373.7" cy="633.2" r="7.3"/><circle cx="1374.1" cy="638.5" r="7.3"/><circle cx="1374.2" cy="632.7" r="7.3"/><circle cx="1374.3" cy="626.9" r="7.3"/><circle cx="1374.4" cy="621.1" r="7.3"/><circle cx="1374.4" cy="615.3" r="7.3"/><circle cx="1374.5" cy="609.5" r="7.3"/><circle cx="1394.5" cy="609.6" r="7.3"/><circle cx="1394.9" cy="613.8" r="7.3"/><circle cx="1395" cy="607.8" r="7.3"/><circle cx="460.5" cy="818" r="7.3"/></g>
<path d="M586.3 640.4V672" stroke="#008000" stroke-width="2.6" fill="none" opacity="0.9"/>
<g fill="#008000" fill-opacity="0.6" stroke="#008000" stroke-opacity="0.6" stroke-width="1"><circle cx="587.1" cy="672" r="6.2"/><circle cx="586.9" cy="675" r="6.2"/><circle cx="587" cy="680.9" r="6.2"/><circle cx="587.3" cy="683.5" r="6.2"/><circle cx="587.5" cy="687.9" r="6.2"/><circle cx="587" cy="689.9" r="6.2"/><circle cx="587.3" cy="695.1" r="6.2"/><circle cx="586.5" cy="700.7" r="6.2"/><circle cx="586.6" cy="703.5" r="6.2"/><circle cx="587.5" cy="705.9" r="6.2"/><circle cx="587.4" cy="710" r="6.2"/><circle cx="587.4" cy="713.2" r="6.2"/><circle cx="586.8" cy="716.7" r="6.2"/><circle cx="587.4" cy="721.7" r="6.2"/><circle cx="587.1" cy="723.6" r="6.2"/><circle cx="586.7" cy="727.9" r="6.2"/><circle cx="586.6" cy="731.1" r="6.2"/><circle cx="586.8" cy="733.5" r="6.2"/><circle cx="587.2" cy="737.7" r="6.2"/><circle cx="586.5" cy="740.1" r="6.2"/><circle cx="587.2" cy="741.5" r="6.2"/><circle cx="586.8" cy="742.6" r="6.2"/><circle cx="587.3" cy="743.7" r="6.2"/><circle cx="586.6" cy="745.5" r="6.2"/><circle cx="586.9" cy="746.4" r="6.2"/><circle cx="587.1" cy="748.2" r="6.2"/><circle cx="586.7" cy="749.1" r="6.2"/><circle cx="586.9" cy="751.1" r="6.2"/><circle cx="586.8" cy="752.4" r="6.2"/><circle cx="586.8" cy="754.8" r="6.2"/><circle cx="586.9" cy="756.6" r="6.2"/><circle cx="587.4" cy="758.1" r="6.2"/><circle cx="586.9" cy="760.6" r="6.2"/><circle cx="587.2" cy="761.7" r="6.2"/><circle cx="586.5" cy="762.9" r="6.2"/><circle cx="586.9" cy="765.2" r="6.2"/><circle cx="586.9" cy="767.4" r="6.2"/><circle cx="587" cy="769.7" r="6.2"/><circle cx="586.5" cy="770.8" r="6.2"/><circle cx="587.1" cy="772.5" r="6.2"/><circle cx="586.6" cy="774.9" r="6.2"/><circle cx="586.9" cy="776.7" r="6.2"/><circle cx="586.6" cy="778.4" r="6.2"/><circle cx="587" cy="779.7" r="6.2"/><circle cx="586.6" cy="782" r="6.2"/><circle cx="587.3" cy="783.7" r="6.2"/><circle cx="586.7" cy="786.1" r="6.2"/><circle cx="587.4" cy="787.1" r="6.2"/><circle cx="587" cy="789.6" r="6.2"/><circle cx="587.4" cy="790.5" r="6.2"/><circle cx="587.4" cy="791.9" r="6.2"/><circle cx="587.3" cy="793.8" r="6.2"/><circle cx="587.3" cy="794.9" r="6.2"/><circle cx="586.9" cy="796" r="6.2"/><circle cx="587.3" cy="798.3" r="6.2"/><circle cx="586.7" cy="799.4" r="6.2"/><circle cx="587" cy="800.9" r="6.2"/><circle cx="586.6" cy="802.3" r="6.2"/><circle cx="587.2" cy="803.5" r="6.2"/><circle cx="586.5" cy="805.9" r="6.2"/><circle cx="587.3" cy="807.6" r="6.2"/><circle cx="587.3" cy="808.5" r="6.2"/><circle cx="587.1" cy="809.5" r="6.2"/><circle cx="587.1" cy="811.2" r="6.2"/><circle cx="586.9" cy="812.5" r="6.2"/><circle cx="586.9" cy="814.3" r="6.2"/><circle cx="586.9" cy="816.2" r="6.2"/><circle cx="586.5" cy="817.8" r="6.2"/><circle cx="587" cy="819.6" r="6.2"/><circle cx="587.3" cy="820.8" r="6.2"/></g>
<path d="M587 712V819" stroke="#008000" stroke-width="12.6" stroke-linecap="round" fill="none"/>
</g>
<g font-size="15.5" fill="#000"><text transform="translate(435.5 902.2) rotate(-80)">n=1</text><text transform="translate(474.8 860.2) rotate(-80)">n=2</text><text transform="translate(515.5 811) rotate(-80)">n=3</text><text transform="translate(556.8 769.5) rotate(-80)">n=4</text><text transform="translate(598.5 727.8) rotate(-80)">n=5</text><text transform="translate(639 685) rotate(-80)">n=6</text><text transform="translate(679 642.5) rotate(-80)">n=7</text><text transform="translate(718 605) rotate(-80)">n=8</text><text transform="translate(756.7 566.2) rotate(-80)">n=9</text><text transform="translate(794.2 522.6) rotate(-80)">n=10</text><text transform="translate(831 483.5) rotate(-80)">n=11</text><text transform="translate(866.2 440.6) rotate(-80)">n=12</text><text transform="translate(901 399.4) rotate(-80)">n=13</text><text transform="translate(934.7 353.5) rotate(-80)">n=14</text><text transform="translate(967.2 305) rotate(-80)">n=15</text><text transform="translate(999.5 252.3) rotate(-80)">n=16</text><text transform="translate(1030.2 217.9) rotate(-80)">n=17</text><text transform="translate(1060.5 161.4) rotate(-80)">n=18</text></g>
<rect x="250.5" y="144.5" width="1550" height="924" fill="none" stroke="#000" stroke-width="1.2"/>
<g stroke="#000" fill="none"><path stroke-width="5.56" d="M250.6 1068.5v16.7M430 1068.5v16.7M609.4 1068.5v16.7M788.8 1068.5v16.7M968.2 1068.5v16.7M1147.6 1068.5v16.7M1327 1068.5v16.7M1506.4 1068.5v16.7M1685.8 1068.5v16.7M286.5 1068.5v11.1M322.4 1068.5v11.1M358.2 1068.5v11.1M394.1 1068.5v11.1M465.9 1068.5v11.1M501.8 1068.5v11.1M537.6 1068.5v11.1M573.5 1068.5v11.1M645.3 1068.5v11.1M681.2 1068.5v11.1M717 1068.5v11.1M752.9 1068.5v11.1M824.7 1068.5v11.1M860.6 1068.5v11.1M896.4 1068.5v11.1M932.3 1068.5v11.1M1004.1 1068.5v11.1M1040 1068.5v11.1M1075.8 1068.5v11.1M1111.7 1068.5v11.1M1183.5 1068.5v11.1M1219.4 1068.5v11.1M1255.2 1068.5v11.1M1291.1 1068.5v11.1M1362.9 1068.5v11.1M1398.8 1068.5v11.1M1434.6 1068.5v11.1M1470.5 1068.5v11.1M1542.3 1068.5v11.1M1578.2 1068.5v11.1M1614 1068.5v11.1M1649.9 1068.5v11.1M1721.7 1068.5v11.1M1757.6 1068.5v11.1M1793.4 1068.5v11.1M250.5 980.7h-17.3M250.5 876.1h-17.3M250.5 771.6h-17.3M250.5 667h-17.3M250.5 562.4h-17.3M250.5 457.9h-17.3M250.5 353.3h-17.3M250.5 248.8h-17.3M250.5 144.2h-17.3M250.5 1064.6h-11.1M250.5 1043.7h-11.1M250.5 1022.8h-11.1M250.5 1001.9h-11.1M250.5 960.1h-11.1M250.5 939.2h-11.1M250.5 918.2h-11.1M250.5 897.3h-11.1M250.5 855.5h-11.1M250.5 834.6h-11.1M250.5 813.7h-11.1M250.5 792.8h-11.1M250.5 750.9h-11.1M250.5 730h-11.1M250.5 709.1h-11.1M250.5 688.2h-11.1M250.5 646.4h-11.1M250.5 625.5h-11.1M250.5 604.6h-11.1M250.5 583.7h-11.1M250.5 541.8h-11.1M250.5 520.9h-11.1M250.5 500h-11.1M250.5 479.1h-11.1M250.5 437.3h-11.1M250.5 416.4h-11.1M250.5 395.4h-11.1M250.5 374.5h-11.1M250.5 332.7h-11.1M250.5 311.8h-11.1M250.5 290.9h-11.1M250.5 270h-11.1M250.5 228.1h-11.1M250.5 207.2h-11.1M250.5 186.3h-11.1M250.5 165.4h-11.1"/></g>
<g font-size="34.72" fill="#000" letter-spacing="1"><text x="250.8" y="1117.3" text-anchor="middle">285.2</text><text x="430.2" y="1117.3" text-anchor="middle">285.3</text><text x="609.6" y="1117.3" text-anchor="middle">285.4</text><text x="789" y="1117.3" text-anchor="middle">285.5</text><text x="968.4" y="1117.3" text-anchor="middle">285.6</text><text x="1147.8" y="1117.3" text-anchor="middle">285.7</text><text x="1327.2" y="1117.3" text-anchor="middle">285.8</text><text x="1506.6" y="1117.3" text-anchor="middle">285.9</text><text x="1686" y="1117.3" text-anchor="middle">286.0</text><text x="229.3" y="994.4" text-anchor="end">200</text><text x="229.3" y="889.8" text-anchor="end">300</text><text x="229.3" y="785.3" text-anchor="end">400</text><text x="229.3" y="680.7" text-anchor="end">500</text><text x="229.3" y="576.1" text-anchor="end">600</text><text x="229.3" y="471.6" text-anchor="end">700</text><text x="229.3" y="367" text-anchor="end">800</text><text x="229.3" y="262.5" text-anchor="end">900</text><text x="229.3" y="157.9" text-anchor="end">1000</text></g>
<text x="1025" y="1171.8" font-size="55.56" text-anchor="middle">Age (Myr)</text>
<text transform="translate(119 606) rotate(-90)" font-size="55.56" text-anchor="middle">FM period (days)</text>
<rect x="263.7" y="157.6" width="534.9" height="290.6" rx="4" ry="4" fill="#fff" fill-opacity="0.8" stroke="#ccc" stroke-opacity="0.8" stroke-width="1.4"/>
<g fill="none">
<path d="M272 177H324" stroke="#000" stroke-width="1.5"/><circle cx="298" cy="177" r="2.2" fill="#000"/>
<path d="M271 214H325" stroke="#00f" stroke-width="4.3"/>
<path d="M271 250.8H325" stroke="#008000" stroke-width="4.3"/>
<path d="M272 286.8H324" stroke="#ffa500" stroke-width="1.8"/>
<circle cx="298.5" cy="324.5" r="4.3" fill="#90ee90"/>
<path d="M272 359.8H324" stroke="#f00" stroke-width="2.1"/>
<polygon points="298.5,340.5 303,354.3 317.4,354.3 305.7,362.7 310.2,376.5 298.5,368 286.8,376.5 291.3,362.7 279.6,354.3 294,354.3" fill="#f00" stroke="#f00" stroke-width="1.4"/>
<circle cx="298.5" cy="413.3" r="7" fill="#ff0" fill-opacity="0.24" stroke="#ff0" stroke-opacity="0.24" stroke-width="1.4"/>
</g>
<g font-size="25" fill="#000" letter-spacing="0.06">
<text x="341.3" y="186">m3.30_z0.0500_y0.354</text>
<text x="341.3" y="223">peak detector horizontal bounds</text>
<text x="341.3" y="260">min. P consistent with observations</text>
<text x="341.3" y="296.3">max. P must fall within this span</text>
<text x="341.3" y="332.3">pulse region fit with cubic spline</text>
<text x="341.3" y="368.8">pulses identified</text>
<text x="341.3" y="404.8">intersection w/ P,L,T,R</text>
<text x="341.3" y="432.5">loosely defined</text>
</g>
</svg>
</body></html>
